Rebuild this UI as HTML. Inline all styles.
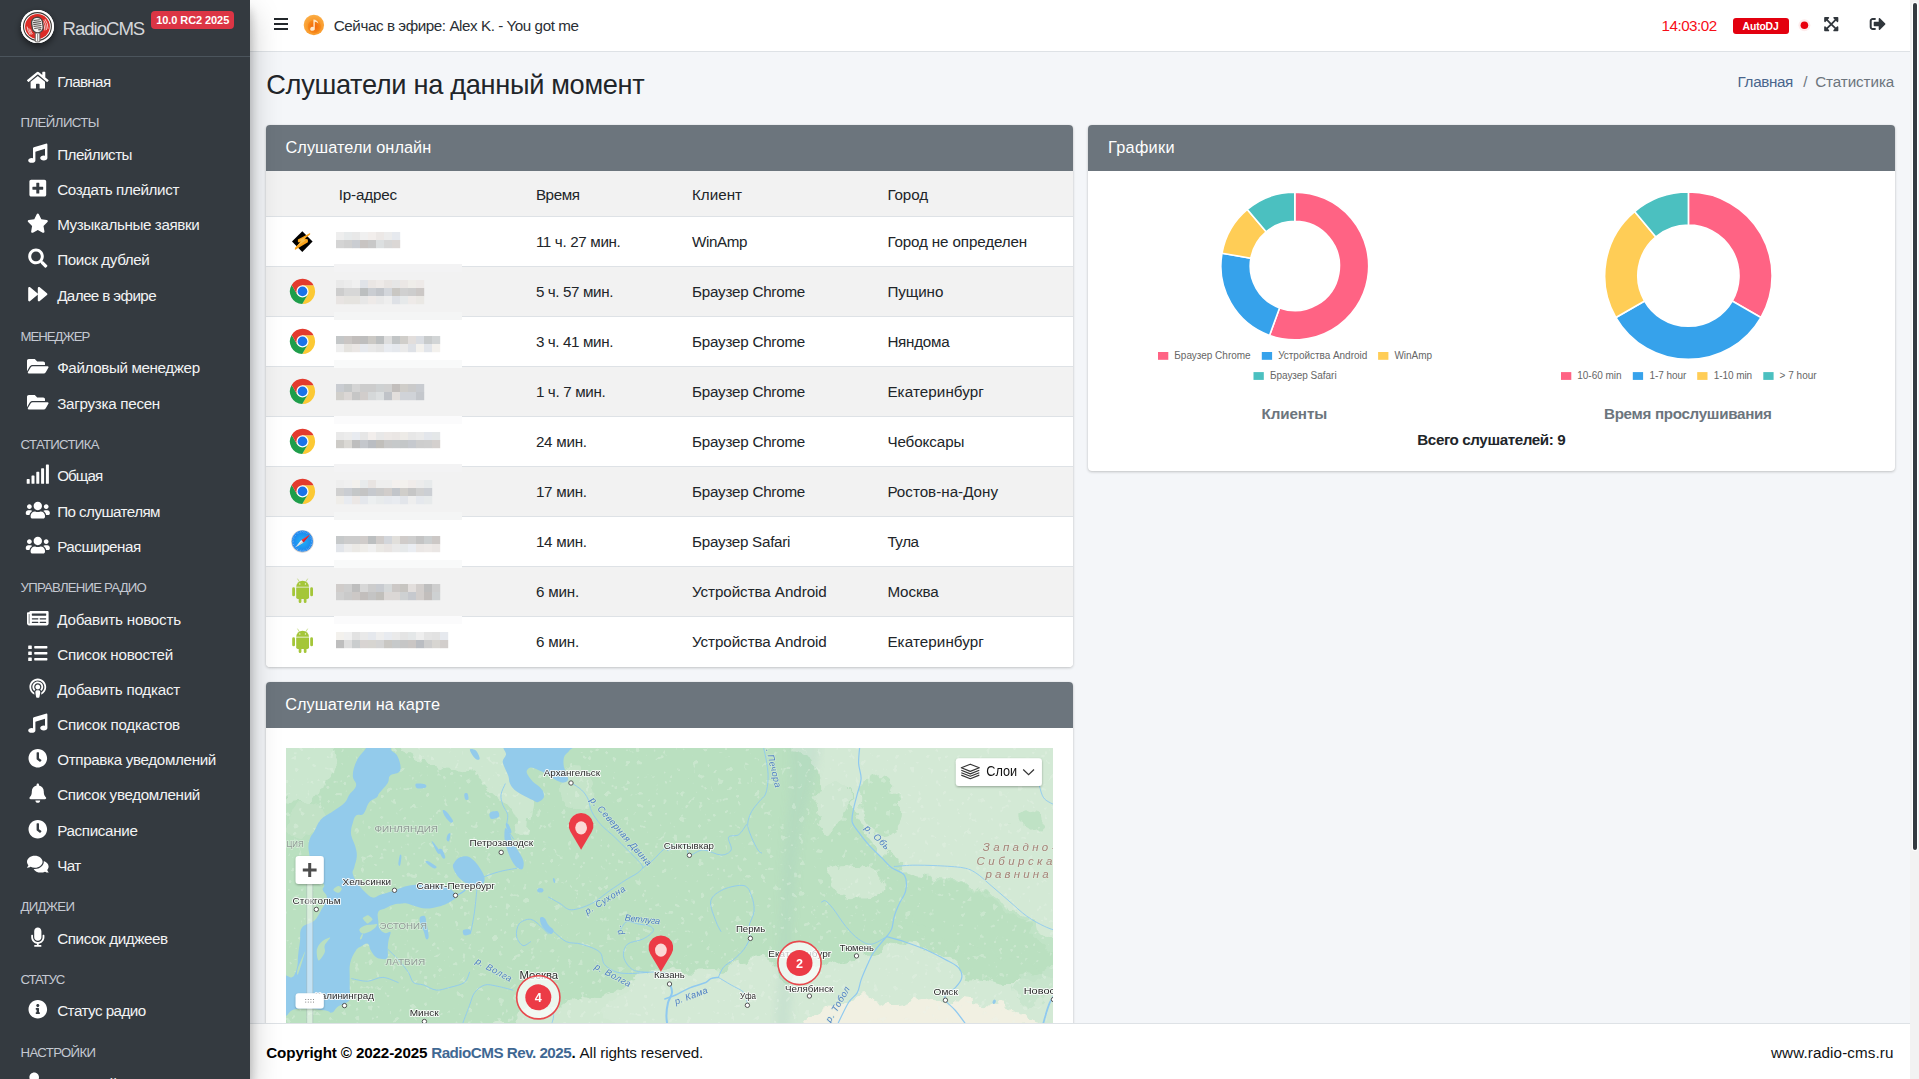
<!DOCTYPE html>
<html lang="ru"><head><meta charset="utf-8"><title>RadioCMS</title>
<style>
*{box-sizing:border-box}
html,body{margin:0;padding:0}
body{width:1919px;height:1079px;overflow:hidden;position:relative;background:#f4f6f9;font-family:'Liberation Sans',sans-serif;color:#212529}
.t{position:absolute;white-space:pre;display:block}
.i{position:absolute;display:block}
.abs{position:absolute}
#side{left:0;top:0;width:250px;height:1079px;background:#343a40;z-index:30;overflow:hidden}
#sideshadow{left:0;top:0;width:250px;height:1079px;z-index:29;box-shadow:0 14px 28px rgba(0,0,0,.25),0 10px 10px rgba(0,0,0,.22)}
#nav{left:250px;top:0;width:1660px;height:52px;background:#fff;border-bottom:1px solid #dee2e6;z-index:20}
#foot{left:250px;top:1023px;width:1660px;height:56px;background:#fff;border-top:1px solid #dee2e6;z-index:20}
.card{background:#fff;border-radius:4px;box-shadow:0 0 1px rgba(0,0,0,.125),0 1px 3px rgba(0,0,0,.2)}
.ch{background:#6c757d;border-radius:4px 4px 0 0;height:46px;left:0;top:0;width:100%}
.ml{font-family:'Liberation Sans',sans-serif;fill:#2b2b2b;stroke:#fff;stroke-width:2px;stroke-opacity:.85;paint-order:stroke;stroke-linejoin:round}
.mc{font-family:'Liberation Sans',sans-serif;fill:#8f9a95;stroke:#e6f2e6;stroke-width:1.5px;stroke-opacity:.6;paint-order:stroke}
.mr{font-family:'Liberation Sans',sans-serif;font-style:italic;fill:#4f7fc4;stroke:#d8ecdc;stroke-width:1.5px;stroke-opacity:.6;paint-order:stroke}
.mp{font-family:'Liberation Sans',sans-serif;font-style:italic;fill:#a58478;stroke:#e4f0e4;stroke-width:1.5px;stroke-opacity:.5;paint-order:stroke}
</style></head><body>
<span class="t" style="left:266.30px;top:68.30px;font-size:27.2px;line-height:33px;color:#212529;letter-spacing:-0.322px;">Слушатели на данный момент</span>
<span class="t" style="left:1737.60px;top:72.30px;font-size:15.2px;line-height:19px;color:#49658c;letter-spacing:-0.345px;">Главная</span>
<span class="t" style="left:1803.20px;top:72.30px;font-size:15.2px;line-height:19px;color:#6c757d;">/</span>
<span class="t" style="left:1815.20px;top:72.30px;font-size:15.2px;line-height:19px;color:#6c757d;letter-spacing:-0.077px;">Статистика</span>
<div class="abs card" style="left:265.5px;top:125px;width:807.5px;height:541.5px"><div class="abs ch"></div>
<div class="abs" style="left:0;top:46px;width:100%;height:46px;background:#f2f2f2;border-bottom:1px solid #dee2e6"></div>
<div class="abs" style="left:0;top:92px;width:100%;height:50px;background:#fff;border-bottom:1px solid #dee2e6;"></div>
<div class="abs" style="left:0;top:142px;width:100%;height:50px;background:#f2f2f2;border-bottom:1px solid #dee2e6;"></div>
<div class="abs" style="left:0;top:192px;width:100%;height:50px;background:#fff;border-bottom:1px solid #dee2e6;"></div>
<div class="abs" style="left:0;top:242px;width:100%;height:50px;background:#f2f2f2;border-bottom:1px solid #dee2e6;"></div>
<div class="abs" style="left:0;top:292px;width:100%;height:50px;background:#fff;border-bottom:1px solid #dee2e6;"></div>
<div class="abs" style="left:0;top:342px;width:100%;height:50px;background:#f2f2f2;border-bottom:1px solid #dee2e6;"></div>
<div class="abs" style="left:0;top:392px;width:100%;height:50px;background:#fff;border-bottom:1px solid #dee2e6;"></div>
<div class="abs" style="left:0;top:442px;width:100%;height:50px;background:#f2f2f2;border-bottom:1px solid #dee2e6;"></div>
<div class="abs" style="left:0;top:492px;width:100%;height:49.5px;background:#fff;border-radius:0 0 4px 4px;"></div>
</div>
<svg class="i" style="left:266px;top:171px" width="807" height="496" viewBox="266 171 807 496"><rect x="336" y="232" width="8.2" height="8.2" fill="rgb(238, 238, 238)"/><rect x="344" y="232" width="8.2" height="8.2" fill="rgb(231, 234, 235)"/><rect x="352" y="232" width="8.2" height="8.2" fill="rgb(232, 232, 232)"/><rect x="360" y="232" width="8.2" height="8.2" fill="rgb(240, 240, 240)"/><rect x="368" y="232" width="8.2" height="8.2" fill="rgb(242, 238, 236)"/><rect x="376" y="232" width="8.2" height="8.2" fill="rgb(236, 232, 230)"/><rect x="384" y="232" width="8.2" height="8.2" fill="rgb(236, 236, 236)"/><rect x="392" y="232" width="8.2" height="8.2" fill="rgb(230, 233, 238)"/><rect x="336" y="240" width="8.2" height="8.2" fill="rgb(212, 212, 212)"/><rect x="344" y="240" width="8.2" height="8.2" fill="rgb(208, 208, 208)"/><rect x="352" y="240" width="8.2" height="8.2" fill="rgb(202, 205, 210)"/><rect x="360" y="240" width="8.2" height="8.2" fill="rgb(200, 196, 194)"/><rect x="368" y="240" width="8.2" height="8.2" fill="rgb(200, 200, 200)"/><rect x="376" y="240" width="8.2" height="8.2" fill="rgb(220, 223, 224)"/><rect x="384" y="240" width="8.2" height="8.2" fill="rgb(215, 215, 215)"/><rect x="392" y="240" width="8.2" height="8.2" fill="rgb(219, 215, 213)"/><rect x="334" y="264" width="128" height="8" fill="rgb(243, 243, 244)"/><rect x="336" y="280" width="8.2" height="8.2" fill="rgb(233, 233, 233)"/><rect x="344" y="280" width="8.2" height="8.2" fill="rgb(236, 236, 236)"/><rect x="352" y="280" width="8.2" height="8.2" fill="rgb(240, 240, 240)"/><rect x="360" y="280" width="8.2" height="8.2" fill="rgb(224, 227, 232)"/><rect x="368" y="280" width="8.2" height="8.2" fill="rgb(234, 230, 228)"/><rect x="376" y="280" width="8.2" height="8.2" fill="rgb(238, 234, 232)"/><rect x="384" y="280" width="8.2" height="8.2" fill="rgb(232, 228, 226)"/><rect x="392" y="280" width="8.2" height="8.2" fill="rgb(230, 230, 230)"/><rect x="400" y="280" width="8.2" height="8.2" fill="rgb(235, 231, 229)"/><rect x="408" y="280" width="8.2" height="8.2" fill="rgb(239, 237, 233)"/><rect x="416" y="280" width="8.2" height="8.2" fill="rgb(238, 234, 232)"/><rect x="336" y="288" width="8.2" height="8.2" fill="rgb(205, 205, 205)"/><rect x="344" y="288" width="8.2" height="8.2" fill="rgb(215, 215, 215)"/><rect x="352" y="288" width="8.2" height="8.2" fill="rgb(215, 215, 215)"/><rect x="360" y="288" width="8.2" height="8.2" fill="rgb(188, 191, 192)"/><rect x="368" y="288" width="8.2" height="8.2" fill="rgb(202, 205, 210)"/><rect x="376" y="288" width="8.2" height="8.2" fill="rgb(194, 197, 202)"/><rect x="384" y="288" width="8.2" height="8.2" fill="rgb(211, 214, 219)"/><rect x="392" y="288" width="8.2" height="8.2" fill="rgb(201, 199, 195)"/><rect x="400" y="288" width="8.2" height="8.2" fill="rgb(208, 208, 208)"/><rect x="408" y="288" width="8.2" height="8.2" fill="rgb(205, 205, 205)"/><rect x="416" y="288" width="8.2" height="8.2" fill="rgb(204, 200, 198)"/><rect x="336" y="296" width="8.2" height="8.2" fill="rgb(232, 228, 226)"/><rect x="344" y="296" width="8.2" height="8.2" fill="rgb(229, 227, 223)"/><rect x="352" y="296" width="8.2" height="8.2" fill="rgb(229, 227, 223)"/><rect x="360" y="296" width="8.2" height="8.2" fill="rgb(231, 231, 231)"/><rect x="368" y="296" width="8.2" height="8.2" fill="rgb(238, 234, 232)"/><rect x="376" y="296" width="8.2" height="8.2" fill="rgb(233, 233, 233)"/><rect x="384" y="296" width="8.2" height="8.2" fill="rgb(238, 238, 238)"/><rect x="392" y="296" width="8.2" height="8.2" fill="rgb(222, 225, 230)"/><rect x="400" y="296" width="8.2" height="8.2" fill="rgb(230, 233, 234)"/><rect x="408" y="296" width="8.2" height="8.2" fill="rgb(238, 234, 232)"/><rect x="416" y="296" width="8.2" height="8.2" fill="rgb(234, 232, 228)"/><rect x="334" y="312" width="128" height="8" fill="rgb(244, 245, 245)"/><rect x="336" y="336" width="8.2" height="8.2" fill="rgb(196, 199, 200)"/><rect x="344" y="336" width="8.2" height="8.2" fill="rgb(202, 198, 196)"/><rect x="352" y="336" width="8.2" height="8.2" fill="rgb(194, 190, 188)"/><rect x="360" y="336" width="8.2" height="8.2" fill="rgb(190, 190, 190)"/><rect x="368" y="336" width="8.2" height="8.2" fill="rgb(203, 201, 197)"/><rect x="376" y="336" width="8.2" height="8.2" fill="rgb(188, 191, 192)"/><rect x="384" y="336" width="8.2" height="8.2" fill="rgb(222, 222, 222)"/><rect x="392" y="336" width="8.2" height="8.2" fill="rgb(194, 197, 198)"/><rect x="400" y="336" width="8.2" height="8.2" fill="rgb(208, 206, 202)"/><rect x="408" y="336" width="8.2" height="8.2" fill="rgb(226, 222, 220)"/><rect x="416" y="336" width="8.2" height="8.2" fill="rgb(218, 221, 226)"/><rect x="424" y="336" width="8.2" height="8.2" fill="rgb(200, 203, 204)"/><rect x="432" y="336" width="8.2" height="8.2" fill="rgb(210, 213, 214)"/><rect x="336" y="344" width="8.2" height="8.2" fill="rgb(238, 238, 238)"/><rect x="344" y="344" width="8.2" height="8.2" fill="rgb(229, 227, 223)"/><rect x="352" y="344" width="8.2" height="8.2" fill="rgb(234, 230, 228)"/><rect x="360" y="344" width="8.2" height="8.2" fill="rgb(230, 233, 238)"/><rect x="368" y="344" width="8.2" height="8.2" fill="rgb(232, 232, 232)"/><rect x="376" y="344" width="8.2" height="8.2" fill="rgb(228, 228, 228)"/><rect x="384" y="344" width="8.2" height="8.2" fill="rgb(232, 235, 240)"/><rect x="392" y="344" width="8.2" height="8.2" fill="rgb(229, 232, 237)"/><rect x="400" y="344" width="8.2" height="8.2" fill="rgb(234, 234, 234)"/><rect x="408" y="344" width="8.2" height="8.2" fill="rgb(222, 225, 230)"/><rect x="416" y="344" width="8.2" height="8.2" fill="rgb(243, 241, 237)"/><rect x="424" y="344" width="8.2" height="8.2" fill="rgb(226, 229, 234)"/><rect x="432" y="344" width="8.2" height="8.2" fill="rgb(243, 241, 237)"/><rect x="334" y="360" width="128" height="8" fill="rgb(249, 250, 250)"/><rect x="336" y="384" width="8.2" height="8.2" fill="rgb(201, 204, 209)"/><rect x="344" y="384" width="8.2" height="8.2" fill="rgb(196, 199, 200)"/><rect x="352" y="384" width="8.2" height="8.2" fill="rgb(212, 212, 212)"/><rect x="360" y="384" width="8.2" height="8.2" fill="rgb(204, 204, 204)"/><rect x="368" y="384" width="8.2" height="8.2" fill="rgb(204, 204, 204)"/><rect x="376" y="384" width="8.2" height="8.2" fill="rgb(206, 209, 210)"/><rect x="384" y="384" width="8.2" height="8.2" fill="rgb(208, 208, 208)"/><rect x="392" y="384" width="8.2" height="8.2" fill="rgb(194, 190, 188)"/><rect x="400" y="384" width="8.2" height="8.2" fill="rgb(207, 205, 201)"/><rect x="408" y="384" width="8.2" height="8.2" fill="rgb(202, 202, 202)"/><rect x="416" y="384" width="8.2" height="8.2" fill="rgb(200, 203, 208)"/><rect x="336" y="392" width="8.2" height="8.2" fill="rgb(209, 207, 203)"/><rect x="344" y="392" width="8.2" height="8.2" fill="rgb(219, 215, 213)"/><rect x="352" y="392" width="8.2" height="8.2" fill="rgb(198, 198, 198)"/><rect x="360" y="392" width="8.2" height="8.2" fill="rgb(209, 205, 203)"/><rect x="368" y="392" width="8.2" height="8.2" fill="rgb(213, 216, 217)"/><rect x="376" y="392" width="8.2" height="8.2" fill="rgb(220, 223, 224)"/><rect x="384" y="392" width="8.2" height="8.2" fill="rgb(192, 195, 200)"/><rect x="392" y="392" width="8.2" height="8.2" fill="rgb(226, 222, 220)"/><rect x="400" y="392" width="8.2" height="8.2" fill="rgb(208, 211, 216)"/><rect x="408" y="392" width="8.2" height="8.2" fill="rgb(208, 211, 216)"/><rect x="416" y="392" width="8.2" height="8.2" fill="rgb(196, 199, 204)"/><rect x="334" y="416" width="128" height="8" fill="rgb(251, 251, 252)"/><rect x="336" y="432" width="8.2" height="8.2" fill="rgb(233, 233, 233)"/><rect x="344" y="432" width="8.2" height="8.2" fill="rgb(236, 236, 236)"/><rect x="352" y="432" width="8.2" height="8.2" fill="rgb(232, 235, 240)"/><rect x="360" y="432" width="8.2" height="8.2" fill="rgb(230, 230, 230)"/><rect x="368" y="432" width="8.2" height="8.2" fill="rgb(242, 238, 236)"/><rect x="376" y="432" width="8.2" height="8.2" fill="rgb(232, 232, 232)"/><rect x="384" y="432" width="8.2" height="8.2" fill="rgb(236, 232, 230)"/><rect x="392" y="432" width="8.2" height="8.2" fill="rgb(234, 230, 228)"/><rect x="400" y="432" width="8.2" height="8.2" fill="rgb(237, 235, 231)"/><rect x="408" y="432" width="8.2" height="8.2" fill="rgb(231, 231, 231)"/><rect x="416" y="432" width="8.2" height="8.2" fill="rgb(234, 234, 234)"/><rect x="424" y="432" width="8.2" height="8.2" fill="rgb(227, 230, 235)"/><rect x="432" y="432" width="8.2" height="8.2" fill="rgb(228, 231, 232)"/><rect x="336" y="440" width="8.2" height="8.2" fill="rgb(205, 203, 199)"/><rect x="344" y="440" width="8.2" height="8.2" fill="rgb(218, 216, 212)"/><rect x="352" y="440" width="8.2" height="8.2" fill="rgb(190, 190, 190)"/><rect x="360" y="440" width="8.2" height="8.2" fill="rgb(196, 199, 204)"/><rect x="368" y="440" width="8.2" height="8.2" fill="rgb(186, 189, 194)"/><rect x="376" y="440" width="8.2" height="8.2" fill="rgb(193, 191, 187)"/><rect x="384" y="440" width="8.2" height="8.2" fill="rgb(200, 200, 200)"/><rect x="392" y="440" width="8.2" height="8.2" fill="rgb(198, 201, 202)"/><rect x="400" y="440" width="8.2" height="8.2" fill="rgb(196, 199, 200)"/><rect x="408" y="440" width="8.2" height="8.2" fill="rgb(198, 201, 206)"/><rect x="416" y="440" width="8.2" height="8.2" fill="rgb(205, 205, 205)"/><rect x="424" y="440" width="8.2" height="8.2" fill="rgb(206, 206, 206)"/><rect x="432" y="440" width="8.2" height="8.2" fill="rgb(212, 208, 206)"/><rect x="334" y="464" width="128" height="8" fill="rgb(243, 243, 244)"/><rect x="336" y="480" width="8.2" height="8.2" fill="rgb(238, 238, 238)"/><rect x="344" y="480" width="8.2" height="8.2" fill="rgb(240, 240, 240)"/><rect x="352" y="480" width="8.2" height="8.2" fill="rgb(243, 241, 237)"/><rect x="360" y="480" width="8.2" height="8.2" fill="rgb(232, 235, 236)"/><rect x="368" y="480" width="8.2" height="8.2" fill="rgb(232, 228, 226)"/><rect x="376" y="480" width="8.2" height="8.2" fill="rgb(238, 238, 238)"/><rect x="384" y="480" width="8.2" height="8.2" fill="rgb(238, 238, 238)"/><rect x="392" y="480" width="8.2" height="8.2" fill="rgb(244, 240, 238)"/><rect x="400" y="480" width="8.2" height="8.2" fill="rgb(243, 241, 237)"/><rect x="408" y="480" width="8.2" height="8.2" fill="rgb(240, 236, 234)"/><rect x="416" y="480" width="8.2" height="8.2" fill="rgb(236, 236, 236)"/><rect x="424" y="480" width="8.2" height="8.2" fill="rgb(231, 234, 235)"/><rect x="336" y="488" width="8.2" height="8.2" fill="rgb(208, 208, 208)"/><rect x="344" y="488" width="8.2" height="8.2" fill="rgb(202, 205, 210)"/><rect x="352" y="488" width="8.2" height="8.2" fill="rgb(196, 199, 200)"/><rect x="360" y="488" width="8.2" height="8.2" fill="rgb(196, 196, 196)"/><rect x="368" y="488" width="8.2" height="8.2" fill="rgb(198, 201, 206)"/><rect x="376" y="488" width="8.2" height="8.2" fill="rgb(202, 202, 202)"/><rect x="384" y="488" width="8.2" height="8.2" fill="rgb(209, 205, 203)"/><rect x="392" y="488" width="8.2" height="8.2" fill="rgb(194, 197, 202)"/><rect x="400" y="488" width="8.2" height="8.2" fill="rgb(208, 206, 202)"/><rect x="408" y="488" width="8.2" height="8.2" fill="rgb(198, 198, 198)"/><rect x="416" y="488" width="8.2" height="8.2" fill="rgb(208, 208, 208)"/><rect x="424" y="488" width="8.2" height="8.2" fill="rgb(204, 207, 212)"/><rect x="336" y="496" width="8.2" height="8.2" fill="rgb(239, 237, 233)"/><rect x="344" y="496" width="8.2" height="8.2" fill="rgb(232, 235, 240)"/><rect x="352" y="496" width="8.2" height="8.2" fill="rgb(235, 231, 229)"/><rect x="360" y="496" width="8.2" height="8.2" fill="rgb(228, 231, 236)"/><rect x="368" y="496" width="8.2" height="8.2" fill="rgb(236, 239, 240)"/><rect x="376" y="496" width="8.2" height="8.2" fill="rgb(232, 235, 236)"/><rect x="384" y="496" width="8.2" height="8.2" fill="rgb(230, 233, 238)"/><rect x="392" y="496" width="8.2" height="8.2" fill="rgb(232, 235, 240)"/><rect x="400" y="496" width="8.2" height="8.2" fill="rgb(226, 229, 234)"/><rect x="408" y="496" width="8.2" height="8.2" fill="rgb(238, 238, 238)"/><rect x="416" y="496" width="8.2" height="8.2" fill="rgb(229, 232, 237)"/><rect x="424" y="496" width="8.2" height="8.2" fill="rgb(231, 234, 235)"/><rect x="334" y="512" width="128" height="8" fill="rgb(244, 245, 245)"/><rect x="336" y="536" width="8.2" height="8.2" fill="rgb(198, 201, 202)"/><rect x="344" y="536" width="8.2" height="8.2" fill="rgb(204, 204, 204)"/><rect x="352" y="536" width="8.2" height="8.2" fill="rgb(204, 204, 204)"/><rect x="360" y="536" width="8.2" height="8.2" fill="rgb(208, 204, 202)"/><rect x="368" y="536" width="8.2" height="8.2" fill="rgb(188, 191, 192)"/><rect x="376" y="536" width="8.2" height="8.2" fill="rgb(208, 204, 202)"/><rect x="384" y="536" width="8.2" height="8.2" fill="rgb(211, 214, 219)"/><rect x="392" y="536" width="8.2" height="8.2" fill="rgb(225, 223, 219)"/><rect x="400" y="536" width="8.2" height="8.2" fill="rgb(208, 204, 202)"/><rect x="408" y="536" width="8.2" height="8.2" fill="rgb(206, 206, 206)"/><rect x="416" y="536" width="8.2" height="8.2" fill="rgb(196, 196, 196)"/><rect x="424" y="536" width="8.2" height="8.2" fill="rgb(203, 206, 207)"/><rect x="432" y="536" width="8.2" height="8.2" fill="rgb(204, 200, 198)"/><rect x="336" y="544" width="8.2" height="8.2" fill="rgb(226, 229, 234)"/><rect x="344" y="544" width="8.2" height="8.2" fill="rgb(236, 236, 236)"/><rect x="352" y="544" width="8.2" height="8.2" fill="rgb(235, 233, 229)"/><rect x="360" y="544" width="8.2" height="8.2" fill="rgb(239, 237, 233)"/><rect x="368" y="544" width="8.2" height="8.2" fill="rgb(240, 240, 240)"/><rect x="376" y="544" width="8.2" height="8.2" fill="rgb(234, 232, 228)"/><rect x="384" y="544" width="8.2" height="8.2" fill="rgb(232, 228, 226)"/><rect x="392" y="544" width="8.2" height="8.2" fill="rgb(233, 233, 233)"/><rect x="400" y="544" width="8.2" height="8.2" fill="rgb(230, 233, 234)"/><rect x="408" y="544" width="8.2" height="8.2" fill="rgb(234, 237, 242)"/><rect x="416" y="544" width="8.2" height="8.2" fill="rgb(235, 231, 229)"/><rect x="424" y="544" width="8.2" height="8.2" fill="rgb(237, 233, 231)"/><rect x="432" y="544" width="8.2" height="8.2" fill="rgb(234, 230, 228)"/><rect x="334" y="560" width="128" height="8" fill="rgb(249, 250, 250)"/><rect x="336" y="584" width="8.2" height="8.2" fill="rgb(208, 204, 202)"/><rect x="344" y="584" width="8.2" height="8.2" fill="rgb(206, 206, 206)"/><rect x="352" y="584" width="8.2" height="8.2" fill="rgb(190, 190, 190)"/><rect x="360" y="584" width="8.2" height="8.2" fill="rgb(215, 215, 215)"/><rect x="368" y="584" width="8.2" height="8.2" fill="rgb(204, 204, 204)"/><rect x="376" y="584" width="8.2" height="8.2" fill="rgb(200, 203, 208)"/><rect x="384" y="584" width="8.2" height="8.2" fill="rgb(213, 216, 217)"/><rect x="392" y="584" width="8.2" height="8.2" fill="rgb(204, 200, 198)"/><rect x="400" y="584" width="8.2" height="8.2" fill="rgb(199, 197, 193)"/><rect x="408" y="584" width="8.2" height="8.2" fill="rgb(226, 222, 220)"/><rect x="416" y="584" width="8.2" height="8.2" fill="rgb(210, 206, 204)"/><rect x="424" y="584" width="8.2" height="8.2" fill="rgb(190, 190, 190)"/><rect x="432" y="584" width="8.2" height="8.2" fill="rgb(206, 206, 206)"/><rect x="336" y="592" width="8.2" height="8.2" fill="rgb(208, 208, 208)"/><rect x="344" y="592" width="8.2" height="8.2" fill="rgb(202, 202, 202)"/><rect x="352" y="592" width="8.2" height="8.2" fill="rgb(204, 200, 198)"/><rect x="360" y="592" width="8.2" height="8.2" fill="rgb(194, 190, 188)"/><rect x="368" y="592" width="8.2" height="8.2" fill="rgb(196, 196, 196)"/><rect x="376" y="592" width="8.2" height="8.2" fill="rgb(193, 191, 187)"/><rect x="384" y="592" width="8.2" height="8.2" fill="rgb(219, 215, 213)"/><rect x="392" y="592" width="8.2" height="8.2" fill="rgb(219, 215, 213)"/><rect x="400" y="592" width="8.2" height="8.2" fill="rgb(206, 209, 210)"/><rect x="408" y="592" width="8.2" height="8.2" fill="rgb(198, 201, 206)"/><rect x="416" y="592" width="8.2" height="8.2" fill="rgb(210, 206, 204)"/><rect x="424" y="592" width="8.2" height="8.2" fill="rgb(194, 190, 188)"/><rect x="432" y="592" width="8.2" height="8.2" fill="rgb(206, 209, 210)"/><rect x="334" y="616" width="128" height="8" fill="rgb(251, 251, 252)"/><rect x="336" y="632" width="8.2" height="8.2" fill="rgb(243, 241, 237)"/><rect x="344" y="632" width="8.2" height="8.2" fill="rgb(240, 240, 240)"/><rect x="352" y="632" width="8.2" height="8.2" fill="rgb(226, 226, 226)"/><rect x="360" y="632" width="8.2" height="8.2" fill="rgb(233, 233, 233)"/><rect x="368" y="632" width="8.2" height="8.2" fill="rgb(229, 232, 237)"/><rect x="376" y="632" width="8.2" height="8.2" fill="rgb(238, 238, 238)"/><rect x="384" y="632" width="8.2" height="8.2" fill="rgb(232, 235, 240)"/><rect x="392" y="632" width="8.2" height="8.2" fill="rgb(234, 234, 234)"/><rect x="400" y="632" width="8.2" height="8.2" fill="rgb(228, 228, 228)"/><rect x="408" y="632" width="8.2" height="8.2" fill="rgb(228, 231, 232)"/><rect x="416" y="632" width="8.2" height="8.2" fill="rgb(238, 238, 238)"/><rect x="424" y="632" width="8.2" height="8.2" fill="rgb(228, 228, 228)"/><rect x="432" y="632" width="8.2" height="8.2" fill="rgb(226, 226, 226)"/><rect x="440" y="632" width="8.2" height="8.2" fill="rgb(230, 233, 238)"/><rect x="336" y="640" width="8.2" height="8.2" fill="rgb(190, 190, 190)"/><rect x="344" y="640" width="8.2" height="8.2" fill="rgb(222, 222, 222)"/><rect x="352" y="640" width="8.2" height="8.2" fill="rgb(202, 205, 206)"/><rect x="360" y="640" width="8.2" height="8.2" fill="rgb(216, 212, 210)"/><rect x="368" y="640" width="8.2" height="8.2" fill="rgb(215, 213, 209)"/><rect x="376" y="640" width="8.2" height="8.2" fill="rgb(212, 212, 212)"/><rect x="384" y="640" width="8.2" height="8.2" fill="rgb(201, 199, 195)"/><rect x="392" y="640" width="8.2" height="8.2" fill="rgb(198, 201, 202)"/><rect x="400" y="640" width="8.2" height="8.2" fill="rgb(198, 198, 198)"/><rect x="408" y="640" width="8.2" height="8.2" fill="rgb(202, 198, 196)"/><rect x="416" y="640" width="8.2" height="8.2" fill="rgb(186, 189, 194)"/><rect x="424" y="640" width="8.2" height="8.2" fill="rgb(205, 205, 205)"/><rect x="432" y="640" width="8.2" height="8.2" fill="rgb(215, 213, 209)"/><rect x="440" y="640" width="8.2" height="8.2" fill="rgb(210, 206, 204)"/></svg><svg class="i" style="left:290px;top:229px;" width="26" height="26" viewBox="-12.30 -12.60 26 26"><path d="M0 -10.3L10.3 0L0 10.3L-10.3 0Z" fill="#000"/>
<path d="M7.8 -8.7L-4.4 -2L-4.4 0.7L-2.2 0.7L-7.4 6.3L-7.4 8.5L5.6 0.7L5.6 -2.2L2.6 -3.1L7.8 -7.2Z" fill="#faa41c"/>
<path d="M3.6 -4.6L-3.6 -1.4L-1 -0.4L-5.6 4.6L3.4 -1.2L1.2 -2Z" fill="#f6c356" opacity=".85"/></svg><svg class="i" style="left:288px;top:277px;" width="30" height="29" viewBox="-14.50 -14.40 30 29"><path fill="#fcc934" d="M0.00 -6.10L11.02 -6.10A12.6 12.6 0 0 1 -0.23 12.60L5.28 3.05L0 0Z"/><path fill="#1e9e4a" d="M5.28 3.05L-0.23 12.60A12.6 12.6 0 0 1 -10.80 -6.50L-5.28 3.05L0 0Z"/><path fill="#e33b2e" d="M-5.28 3.05L-10.80 -6.50A12.6 12.6 0 0 1 11.02 -6.10L0.00 -6.10L0 0Z"/><circle r="6.1" fill="#fff"/><circle r="4.85" fill="#1a73e8"/></svg><svg class="i" style="left:288px;top:327px;" width="30" height="29" viewBox="-14.50 -14.40 30 29"><path fill="#fcc934" d="M0.00 -6.10L11.02 -6.10A12.6 12.6 0 0 1 -0.23 12.60L5.28 3.05L0 0Z"/><path fill="#1e9e4a" d="M5.28 3.05L-0.23 12.60A12.6 12.6 0 0 1 -10.80 -6.50L-5.28 3.05L0 0Z"/><path fill="#e33b2e" d="M-5.28 3.05L-10.80 -6.50A12.6 12.6 0 0 1 11.02 -6.10L0.00 -6.10L0 0Z"/><circle r="6.1" fill="#fff"/><circle r="4.85" fill="#1a73e8"/></svg><svg class="i" style="left:288px;top:377px;" width="30" height="29" viewBox="-14.50 -14.40 30 29"><path fill="#fcc934" d="M0.00 -6.10L11.02 -6.10A12.6 12.6 0 0 1 -0.23 12.60L5.28 3.05L0 0Z"/><path fill="#1e9e4a" d="M5.28 3.05L-0.23 12.60A12.6 12.6 0 0 1 -10.80 -6.50L-5.28 3.05L0 0Z"/><path fill="#e33b2e" d="M-5.28 3.05L-10.80 -6.50A12.6 12.6 0 0 1 11.02 -6.10L0.00 -6.10L0 0Z"/><circle r="6.1" fill="#fff"/><circle r="4.85" fill="#1a73e8"/></svg><svg class="i" style="left:288px;top:427px;" width="30" height="29" viewBox="-14.50 -14.40 30 29"><path fill="#fcc934" d="M0.00 -6.10L11.02 -6.10A12.6 12.6 0 0 1 -0.23 12.60L5.28 3.05L0 0Z"/><path fill="#1e9e4a" d="M5.28 3.05L-0.23 12.60A12.6 12.6 0 0 1 -10.80 -6.50L-5.28 3.05L0 0Z"/><path fill="#e33b2e" d="M-5.28 3.05L-10.80 -6.50A12.6 12.6 0 0 1 11.02 -6.10L0.00 -6.10L0 0Z"/><circle r="6.1" fill="#fff"/><circle r="4.85" fill="#1a73e8"/></svg><svg class="i" style="left:288px;top:477px;" width="30" height="29" viewBox="-14.50 -14.40 30 29"><path fill="#fcc934" d="M0.00 -6.10L11.02 -6.10A12.6 12.6 0 0 1 -0.23 12.60L5.28 3.05L0 0Z"/><path fill="#1e9e4a" d="M5.28 3.05L-0.23 12.60A12.6 12.6 0 0 1 -10.80 -6.50L-5.28 3.05L0 0Z"/><path fill="#e33b2e" d="M-5.28 3.05L-10.80 -6.50A12.6 12.6 0 0 1 11.02 -6.10L0.00 -6.10L0 0Z"/><circle r="6.1" fill="#fff"/><circle r="4.85" fill="#1a73e8"/></svg><svg class="i" style="left:289px;top:528px;" width="28" height="28" viewBox="-13.40 -13.20 28 28"><defs><radialGradient id="sfg" cx="50%" cy="50%" r="50%"><stop offset="0" stop-color="#22b4f6"/><stop offset="1" stop-color="#1b82ee"/></radialGradient></defs>
<circle r="11.2" fill="#d9dadd"/><circle cy="0.4" r="11.2" fill="#c9c5c0" opacity=".6"/><circle r="10.6" fill="url(#sfg)"/>
<path d="M8.60 0.00L10.20 0.00M9.16 1.61L10.05 1.77M8.08 2.94L9.58 3.49M8.05 4.65L8.83 5.10M6.59 5.53L7.81 6.56M5.98 7.12L6.56 7.81M4.30 7.45L5.10 8.83M3.18 8.74L3.49 9.58M1.49 8.47L1.77 10.05M0.00 9.30L0.00 10.20M-1.49 8.47L-1.77 10.05M-3.18 8.74L-3.49 9.58M-4.30 7.45L-5.10 8.83M-5.98 7.12L-6.56 7.81M-6.59 5.53L-7.81 6.56M-8.05 4.65L-8.83 5.10M-8.08 2.94L-9.58 3.49M-9.16 1.61L-10.05 1.77M-8.60 0.00L-10.20 0.00M-9.16 -1.61L-10.05 -1.77M-8.08 -2.94L-9.58 -3.49M-8.05 -4.65L-8.83 -5.10M-6.59 -5.53L-7.81 -6.56M-5.98 -7.12L-6.56 -7.81M-4.30 -7.45L-5.10 -8.83M-3.18 -8.74L-3.49 -9.58M-1.49 -8.47L-1.77 -10.05M-0.00 -9.30L-0.00 -10.20M1.49 -8.47L1.77 -10.05M3.18 -8.74L3.49 -9.58M4.30 -7.45L5.10 -8.83M5.98 -7.12L6.56 -7.81M6.59 -5.53L7.81 -6.56M8.05 -4.65L8.83 -5.10M8.08 -2.94L9.58 -3.49M9.16 -1.61L10.05 -1.77" stroke="#fff" stroke-width=".45" opacity=".75"/>
<path d="M7.6 -6.8L1.1 1.2L-1.2 -1.1Z" fill="#f3343a"/><path d="M-6.9 6.1L1.1 1.2L-1.2 -1.1Z" fill="#f4f4f4"/>
<path d="M7.6 -6.8L1.1 1.2L0 0Z" fill="#d4202a"/><path d="M-6.9 6.1L1.1 1.2L0 0Z" fill="#cfcfcf"/></svg><svg class="i" style="left:291px;top:578px;" width="24" height="27" viewBox="-11.60 -0.70 24 27"><g fill="#a4c639"><path d="M-6.4 8.1A6.4 6.1 0 0 1 6.4 8.1Z"/>
<path d="M-6.4 8.75H6.4V18.6Q6.4 20.3 4.7 20.3H-4.7Q-6.4 20.3 -6.4 18.6Z"/>
<rect x="-10.4" y="8.6" width="2.8" height="9" rx="1.4"/><rect x="7.6" y="8.6" width="2.8" height="9" rx="1.4"/>
<rect x="-3.9" y="18" width="2.7" height="6.3" rx="1.35"/><rect x="1.2" y="18" width="2.7" height="6.3" rx="1.35"/></g>
<path d="M-4.9 0.3L-3.2 3.2M4.9 0.3L3.2 3.2" stroke="#a4c639" stroke-width=".55" stroke-linecap="round"/>
<circle cx="-2.8" cy="5.2" r=".6" fill="#fff"/><circle cx="2.8" cy="5.2" r=".6" fill="#fff"/></svg><svg class="i" style="left:291px;top:628px;" width="24" height="27" viewBox="-11.60 -0.70 24 27"><g fill="#a4c639"><path d="M-6.4 8.1A6.4 6.1 0 0 1 6.4 8.1Z"/>
<path d="M-6.4 8.75H6.4V18.6Q6.4 20.3 4.7 20.3H-4.7Q-6.4 20.3 -6.4 18.6Z"/>
<rect x="-10.4" y="8.6" width="2.8" height="9" rx="1.4"/><rect x="7.6" y="8.6" width="2.8" height="9" rx="1.4"/>
<rect x="-3.9" y="18" width="2.7" height="6.3" rx="1.35"/><rect x="1.2" y="18" width="2.7" height="6.3" rx="1.35"/></g>
<path d="M-4.9 0.3L-3.2 3.2M4.9 0.3L3.2 3.2" stroke="#a4c639" stroke-width=".55" stroke-linecap="round"/>
<circle cx="-2.8" cy="5.2" r=".6" fill="#fff"/><circle cx="2.8" cy="5.2" r=".6" fill="#fff"/></svg>
<span class="t" style="left:338.75px;top:185.30px;font-size:15.2px;line-height:19px;color:#212529;letter-spacing:-0.160px;">Ip-адрес</span>
<span class="t" style="left:535.90px;top:185.30px;font-size:15.2px;line-height:19px;color:#212529;letter-spacing:-0.421px;">Время</span>
<span class="t" style="left:692.00px;top:185.30px;font-size:15.2px;line-height:19px;color:#212529;letter-spacing:0.019px;">Клиент</span>
<span class="t" style="left:887.40px;top:185.30px;font-size:15.2px;line-height:19px;color:#212529;letter-spacing:-0.096px;">Город</span>
<span class="t" style="left:535.90px;top:232.30px;font-size:15.2px;line-height:19px;color:#212529;letter-spacing:-0.337px;">11 ч. 27 мин.</span>
<span class="t" style="left:692.00px;top:232.30px;font-size:15.2px;line-height:19px;color:#212529;letter-spacing:-0.365px;">WinAmp</span>
<span class="t" style="left:887.40px;top:232.30px;font-size:15.2px;line-height:19px;color:#212529;letter-spacing:-0.138px;">Город не определен</span>
<span class="t" style="left:535.90px;top:282.30px;font-size:15.2px;line-height:19px;color:#212529;letter-spacing:-0.381px;">5 ч. 57 мин.</span>
<span class="t" style="left:692.00px;top:282.30px;font-size:15.2px;line-height:19px;color:#212529;letter-spacing:-0.223px;">Браузер Chrome</span>
<span class="t" style="left:887.40px;top:282.30px;font-size:15.2px;line-height:19px;color:#212529;letter-spacing:-0.071px;">Пущино</span>
<span class="t" style="left:535.90px;top:332.30px;font-size:15.2px;line-height:19px;color:#212529;letter-spacing:-0.381px;">3 ч. 41 мин.</span>
<span class="t" style="left:692.00px;top:332.30px;font-size:15.2px;line-height:19px;color:#212529;letter-spacing:-0.223px;">Браузер Chrome</span>
<span class="t" style="left:887.40px;top:332.30px;font-size:15.2px;line-height:19px;color:#212529;letter-spacing:-0.240px;">Няндома</span>
<span class="t" style="left:535.90px;top:382.30px;font-size:15.2px;line-height:19px;color:#212529;letter-spacing:-0.347px;">1 ч. 7 мин.</span>
<span class="t" style="left:692.00px;top:382.30px;font-size:15.2px;line-height:19px;color:#212529;letter-spacing:-0.223px;">Браузер Chrome</span>
<span class="t" style="left:887.40px;top:382.30px;font-size:15.2px;line-height:19px;color:#212529;letter-spacing:0.088px;">Екатеринбург</span>
<span class="t" style="left:535.90px;top:432.30px;font-size:15.2px;line-height:19px;color:#212529;letter-spacing:-0.251px;">24 мин.</span>
<span class="t" style="left:692.00px;top:432.30px;font-size:15.2px;line-height:19px;color:#212529;letter-spacing:-0.223px;">Браузер Chrome</span>
<span class="t" style="left:887.40px;top:432.30px;font-size:15.2px;line-height:19px;color:#212529;letter-spacing:-0.085px;">Чебоксары</span>
<span class="t" style="left:535.90px;top:482.30px;font-size:15.2px;line-height:19px;color:#212529;letter-spacing:-0.251px;">17 мин.</span>
<span class="t" style="left:692.00px;top:482.30px;font-size:15.2px;line-height:19px;color:#212529;letter-spacing:-0.223px;">Браузер Chrome</span>
<span class="t" style="left:887.40px;top:482.30px;font-size:15.2px;line-height:19px;color:#212529;">Ростов-на-Дону</span>
<span class="t" style="left:535.90px;top:532.30px;font-size:15.2px;line-height:19px;color:#212529;letter-spacing:-0.251px;">14 мин.</span>
<span class="t" style="left:692.00px;top:532.30px;font-size:15.2px;line-height:19px;color:#212529;letter-spacing:-0.262px;">Браузер Safari</span>
<span class="t" style="left:887.40px;top:532.30px;font-size:15.2px;line-height:19px;color:#212529;letter-spacing:-0.450px;">Тула</span>
<span class="t" style="left:535.90px;top:582.30px;font-size:15.2px;line-height:19px;color:#212529;letter-spacing:-0.184px;">6 мин.</span>
<span class="t" style="left:692.00px;top:582.30px;font-size:15.2px;line-height:19px;color:#212529;letter-spacing:-0.074px;">Устройства Android</span>
<span class="t" style="left:887.40px;top:582.30px;font-size:15.2px;line-height:19px;color:#212529;letter-spacing:-0.093px;">Москва</span>
<span class="t" style="left:535.90px;top:632.30px;font-size:15.2px;line-height:19px;color:#212529;letter-spacing:-0.184px;">6 мин.</span>
<span class="t" style="left:692.00px;top:632.30px;font-size:15.2px;line-height:19px;color:#212529;letter-spacing:-0.074px;">Устройства Android</span>
<span class="t" style="left:887.40px;top:632.30px;font-size:15.2px;line-height:19px;color:#212529;letter-spacing:0.088px;">Екатеринбург</span>
<span class="t" style="left:285.50px;top:137.30px;font-size:16.3px;line-height:20px;color:#fff;letter-spacing:0.066px;">Слушатели онлайн</span>
<div class="abs card" style="left:1087.5px;top:125px;width:807.5px;height:346px"><div class="abs ch"></div></div>
<svg class="i" style="left:1088px;top:171px" width="807" height="300" viewBox="1088 171 807 300"><path d="M1294.80 192.10A73.9 73.9 0 1 1 1269.52 335.44L1279.55 307.91A44.6 44.6 0 1 0 1294.80 221.40Z" fill="#ff6384" stroke="#fff" stroke-width="1.6" stroke-linejoin="round"/><path d="M1269.52 335.44A73.9 73.9 0 0 1 1222.02 253.17L1250.88 258.26A44.6 44.6 0 0 0 1279.55 307.91Z" fill="#36a2eb" stroke="#fff" stroke-width="1.6" stroke-linejoin="round"/><path d="M1222.02 253.17A73.9 73.9 0 0 1 1247.30 209.39L1266.13 231.83A44.6 44.6 0 0 0 1250.88 258.26Z" fill="#ffcd56" stroke="#fff" stroke-width="1.6" stroke-linejoin="round"/><path d="M1247.30 209.39A73.9 73.9 0 0 1 1294.80 192.10L1294.80 221.40A44.6 44.6 0 0 0 1266.13 231.83Z" fill="#4bc0c0" stroke="#fff" stroke-width="1.6" stroke-linejoin="round"/><path d="M1688.40 192.00A83.7 83.7 0 0 1 1760.89 317.55L1732.22 301.00A50.6 50.6 0 0 0 1688.40 225.10Z" fill="#ff6384" stroke="#fff" stroke-width="1.6" stroke-linejoin="round"/><path d="M1760.89 317.55A83.7 83.7 0 0 1 1615.91 317.55L1644.58 301.00A50.6 50.6 0 0 0 1732.22 301.00Z" fill="#36a2eb" stroke="#fff" stroke-width="1.6" stroke-linejoin="round"/><path d="M1615.91 317.55A83.7 83.7 0 0 1 1634.60 211.58L1655.87 236.94A50.6 50.6 0 0 0 1644.58 301.00Z" fill="#ffcd56" stroke="#fff" stroke-width="1.6" stroke-linejoin="round"/><path d="M1634.60 211.58A83.7 83.7 0 0 1 1688.40 192.00L1688.40 225.10A50.6 50.6 0 0 0 1655.87 236.94Z" fill="#4bc0c0" stroke="#fff" stroke-width="1.6" stroke-linejoin="round"/><rect x="1158" y="352" width="10.3" height="7.8" fill="#ff6384"/><rect x="1261.8" y="352" width="10.3" height="7.8" fill="#36a2eb"/><rect x="1378.1" y="352" width="10.3" height="7.8" fill="#ffcd56"/><rect x="1253.5" y="372.1" width="10.3" height="7.8" fill="#4bc0c0"/><rect x="1561" y="372.1" width="10.3" height="7.8" fill="#ff6384"/><rect x="1632.8" y="372.1" width="10.3" height="7.8" fill="#36a2eb"/><rect x="1697.2" y="372.1" width="10.3" height="7.8" fill="#ffcd56"/><rect x="1763.3" y="372.1" width="10.3" height="7.8" fill="#4bc0c0"/></svg>
<span class="t" style="left:1174.30px;top:349.30px;font-size:10px;line-height:13px;color:#666;letter-spacing:-0.015px;">Браузер Chrome</span>
<span class="t" style="left:1278.20px;top:349.30px;font-size:10px;line-height:13px;color:#666;letter-spacing:-0.031px;">Устройства Android</span>
<span class="t" style="left:1394.40px;top:349.30px;font-size:10px;line-height:13px;color:#666;letter-spacing:-0.016px;">WinAmp</span>
<span class="t" style="left:1269.90px;top:369.30px;font-size:10px;line-height:13px;color:#666;letter-spacing:-0.027px;">Браузер Safari</span>
<span class="t" style="left:1577.30px;top:369.30px;font-size:10px;line-height:13px;color:#666;letter-spacing:-0.030px;">10-60 min</span>
<span class="t" style="left:1649.40px;top:369.30px;font-size:10px;line-height:13px;color:#666;letter-spacing:-0.056px;">1-7 hour</span>
<span class="t" style="left:1713.80px;top:369.30px;font-size:10px;line-height:13px;color:#666;letter-spacing:-0.088px;">1-10 min</span>
<span class="t" style="left:1779.60px;top:369.30px;font-size:10px;line-height:13px;color:#666;letter-spacing:0.014px;">&gt; 7 hour</span>
<span class="t" style="left:1261.60px;top:404.30px;font-size:15.2px;line-height:19px;color:#6c757d;font-weight:700;letter-spacing:-0.114px;">Клиенты</span>
<span class="t" style="left:1604.00px;top:404.30px;font-size:15.2px;line-height:19px;color:#6c757d;font-weight:700;letter-spacing:-0.317px;">Время прослушивания</span>
<span class="t" style="left:1417.30px;top:430.30px;font-size:15.2px;line-height:19px;color:#212529;font-weight:700;letter-spacing:-0.415px;">Всего слушателей: 9</span>
<span class="t" style="left:1108.10px;top:137.30px;font-size:16.3px;line-height:20px;color:#fff;letter-spacing:0.281px;">Графики</span>
<div class="abs card" style="left:265.5px;top:682px;width:807.5px;height:420px"><div class="abs ch"></div></div>
<span class="t" style="left:285.30px;top:694.30px;font-size:16.3px;line-height:20px;color:#fff;letter-spacing:0.028px;">Слушатели на карте</span>
<svg class="i" style="left:286px;top:748px" width="767" height="290" viewBox="0 0 767 290"><defs><filter id="bl1" x="-5%" y="-5%" width="110%" height="110%"><feTurbulence type="fractalNoise" baseFrequency="0.055" numOctaves="3" seed="11" result="n"/><feDisplacementMap in="SourceGraphic" in2="n" scale="22" xChannelSelector="R" yChannelSelector="G" result="d"/><feGaussianBlur in="d" stdDeviation=".5"/></filter><filter id="spk" x="0" y="0" width="100%" height="100%"><feTurbulence type="fractalNoise" baseFrequency="0.16" numOctaves="2" seed="5" result="n"/><feColorMatrix in="n" type="matrix" values="0 0 0 0 0.83  0 0 0 0 0.915  0 0 0 0 0.84  0 0 0 16 -10.7"/></filter><filter id="bl3"><feGaussianBlur stdDeviation="3.5"/></filter><filter id="bsh" x="-30%" y="-30%" width="160%" height="180%"><feDropShadow dx="0" dy="1" stdDeviation="1.2" flood-color="#000" flood-opacity=".3"/></filter></defs><rect width="767" height="290" fill="#bae0c0"/><g filter="url(#bl1)"><path d="M-5.1 -5.1C3.4 -14.4 37.0 -8.5 45.9 -5.1C54.8 -1.7 49.7 8.9 48.4 15.3C47.1 21.7 41.2 27.2 38.2 33.1C35.3 39.1 34.4 47.4 30.6 51.0C26.8 54.6 21.2 54.8 15.3 54.8C9.3 54.8 -1.7 60.9 -5.1 51.0C-8.5 41.0 -13.6 4.2 -5.1 -5.1Z" fill="#d3e9d5" opacity=".7"/><path d="M15.3 54.8C20.4 52.7 29.3 55.4 33.1 58.6C37.0 61.8 39.1 68.8 38.2 73.9C37.4 79.0 32.7 87.1 28.0 89.2C23.4 91.3 14.4 89.6 10.2 86.6C5.9 83.7 1.7 76.7 2.5 71.4C3.4 66.0 10.2 56.9 15.3 54.8Z" fill="#d3e9d5" opacity=".3"/><path d="M113.4 -5.1C128.9 -7.6 202.4 -9.8 220.4 -5.1C238.5 -0.4 219.2 15.3 221.7 22.9C224.3 30.6 231.8 35.9 235.7 40.8C239.6 45.7 243.9 47.8 245.2 52.2C246.4 56.7 244.2 62.0 243.4 67.5C242.5 73.1 242.4 83.9 240.1 85.4C237.7 86.9 232.4 80.7 229.4 76.5C226.3 72.2 224.3 64.1 221.7 59.9C219.1 55.6 216.5 53.7 213.6 51.0C210.6 48.2 207.2 46.5 203.9 43.3C200.6 40.1 197.9 35.0 193.7 31.9C189.4 28.7 183.5 26.0 178.4 24.2C173.3 22.4 169.0 22.3 163.1 20.9C157.2 19.5 148.7 17.6 142.7 15.8C136.8 14.0 132.3 13.7 127.4 10.2C122.5 6.7 97.9 -2.5 113.4 -5.1Z" fill="#d3e9d5" opacity=".75"/><path d="M276.5 22.9C278.6 17.4 288.2 16.1 293.1 17.8C298.0 19.5 304.1 26.3 305.8 33.1C307.5 39.9 305.8 53.1 303.3 58.6C300.7 64.1 294.3 67.5 290.5 66.3C286.7 65.0 282.7 58.2 280.3 51.0C278.0 43.7 274.4 28.5 276.5 22.9Z" fill="#d3e9d5" opacity=".45"/><path d="M219.2 280.3C191.3 278.9 223.9 275.0 226.6 271.9C229.2 268.9 230.5 264.0 235.2 262.0C239.9 260.0 248.2 260.6 254.8 259.9C261.5 259.3 268.1 260.5 275.2 258.2C282.4 255.8 291.4 247.5 297.7 245.7C303.9 243.8 307.5 248.0 312.7 246.9C317.9 245.9 323.5 242.1 328.7 239.6C334.0 237.0 337.3 233.4 344.0 231.9C350.7 230.4 360.7 232.1 369.0 230.6C377.3 229.2 389.8 215.0 394.0 223.2C398.1 231.5 423.1 270.8 394.0 280.3C364.8 289.8 247.1 281.7 219.2 280.3Z" fill="#d3e9d5" opacity=".85"/><path d="M525.4 -5.1C566.6 -8.5 732.5 -38.2 773.9 -5.1C815.3 28.0 779.4 163.1 773.9 193.7C768.4 224.3 750.5 184.1 740.8 178.4C731.0 172.7 723.8 165.0 715.3 159.3C706.8 153.5 698.3 148.2 689.8 144.0C681.3 139.7 672.8 136.3 664.3 133.8C655.8 131.2 646.1 130.4 638.8 128.7C631.6 127.0 626.1 126.4 621.0 123.6C615.9 120.8 612.9 115.7 608.3 112.1C603.6 108.5 598.1 106.6 593.0 101.9C587.9 97.3 581.9 90.5 577.7 84.1C573.4 77.7 570.0 70.9 567.5 63.7C564.9 56.5 565.8 45.7 562.4 40.8C559.0 35.9 552.0 35.3 547.1 34.4C542.2 33.6 536.5 38.9 533.1 35.7C529.7 32.5 528.0 22.1 526.7 15.3C525.4 8.5 484.2 -1.7 525.4 -5.1Z" fill="#d3e9d5" /><path d="M577.7 31.9C581.5 25.9 592.1 24.8 598.1 28.0C604.0 31.2 611.2 42.9 613.4 51.0C615.5 59.0 612.5 70.5 610.8 76.5C609.1 82.4 607.0 85.4 603.2 86.6C599.3 87.9 592.5 87.9 587.9 84.1C583.2 80.3 576.8 72.4 575.1 63.7C573.4 55.0 573.9 37.8 577.7 31.9Z" fill="#bae0c0" opacity=".85"/><path d="M534.4 35.7C539.0 30.1 552.5 30.6 557.3 33.1C562.0 35.7 562.8 44.5 562.9 51.0C563.0 57.4 561.3 66.3 557.8 71.9C554.3 77.5 546.8 85.5 542.0 84.6C537.2 83.8 530.5 74.9 529.3 66.8C528.0 58.6 529.7 41.3 534.4 35.7Z" fill="#d3e9d5" opacity=".8"/><path d="M544.6 122.8C547.7 120.2 556.0 117.7 562.4 117.2C568.8 116.7 577.2 117.2 582.8 119.8C588.4 122.3 594.7 127.0 596.0 132.5C597.4 138.0 594.8 149.0 590.9 152.9C587.0 156.8 579.0 157.2 572.6 156.0C566.1 154.8 557.1 149.6 552.2 145.8C547.3 141.9 544.6 136.9 543.3 133.0C542.0 129.2 541.4 125.5 544.6 122.8Z" fill="#d3e9d5" opacity=".85"/><path d="M628.6 132.5C634.6 127.8 649.0 128.3 659.2 130.0C669.4 131.7 679.6 138.0 689.8 142.7C700.0 147.4 710.2 152.1 720.4 158.0C730.6 163.9 742.1 172.4 751.0 178.4C759.9 184.3 770.1 186.9 773.9 193.7C777.7 200.5 779.4 215.8 773.9 219.2C768.4 222.6 750.5 216.6 740.8 214.1C731.0 211.5 723.8 206.4 715.3 203.9C706.8 201.3 698.3 201.3 689.8 198.8C681.3 196.2 672.8 192.0 664.3 188.6C655.8 185.2 645.6 183.5 638.8 178.4C632.0 173.3 625.3 165.6 623.6 158.0C621.9 150.4 622.7 137.2 628.6 132.5Z" fill="#bae0c0" opacity=".75"/><path d="M730.6 66.3C733.6 63.3 746.3 59.5 751.0 61.2C755.6 62.9 759.5 72.2 758.6 76.5C757.8 80.7 750.1 86.2 745.9 86.6C741.6 87.1 735.7 82.4 733.1 79.0C730.6 75.6 727.6 69.2 730.6 66.3Z" fill="#bae0c0" opacity=".8"/><path d="M350.9 230.6C353.9 221.3 362.2 225.7 369.0 224.5C375.7 223.3 382.2 223.7 391.4 223.2C400.6 222.8 415.6 222.4 424.0 222.0C432.4 221.5 435.9 222.1 441.6 220.7C447.2 219.2 451.7 214.5 457.9 213.3C464.1 212.1 473.4 212.3 479.1 213.3C484.7 214.3 488.4 215.9 491.5 219.4C494.7 222.9 493.8 234.0 497.9 234.5C502.1 234.9 509.3 225.7 516.5 222.2C523.8 218.7 533.2 215.4 541.5 213.3C549.8 211.2 558.7 211.0 566.5 209.5C574.2 208.0 581.8 206.9 587.9 204.4C594.0 201.8 597.2 195.5 603.2 194.2C609.1 192.9 615.9 195.0 623.6 196.7C631.2 198.4 641.0 201.0 649.0 204.4C657.1 207.8 667.2 212.9 672.0 217.1C676.7 221.4 674.6 227.7 677.6 229.9C680.6 232.0 681.4 229.0 689.8 229.9C698.2 230.7 714.0 235.0 728.0 235.0C742.1 234.9 766.3 221.8 773.9 229.4C781.6 236.9 844.4 271.8 773.9 280.3C703.4 288.8 421.4 288.6 350.9 280.3C280.4 272.0 347.9 239.9 350.9 230.6Z" fill="#d3e9d5" /><path d="M728.0 235.0C730.6 230.7 738.2 226.9 745.9 224.3C753.5 221.6 769.2 215.8 773.9 219.2C778.6 222.6 778.6 238.7 773.9 244.6C769.2 250.6 753.1 254.0 745.9 254.8C738.7 255.7 733.6 253.1 730.6 249.7C727.6 246.4 725.5 239.2 728.0 235.0Z" fill="#c6e4ca" opacity=".8"/><path d="M526.7 280.3C491.7 277.0 531.0 264.6 536.9 260.4C542.9 256.3 554.3 257.5 562.4 255.4C570.5 253.2 579.8 247.7 585.3 247.7C590.8 247.7 590.8 253.7 595.5 255.4C600.2 257.1 606.1 258.6 613.4 257.9C620.6 257.2 630.3 252.1 638.8 251.3C647.3 250.4 655.8 252.1 664.3 252.8C672.8 253.5 681.3 254.5 689.8 255.4C698.3 256.2 707.6 255.8 715.3 257.9C722.9 260.0 730.4 264.4 735.7 268.1C741.0 271.8 782.0 278.3 747.1 280.3C712.3 282.4 561.8 283.6 526.7 280.3Z" fill="#f1f0e2" /></g><g filter="url(#bl3)"><path d="M506.3 -5.1C511.1 -11.0 529.5 -11.0 533.1 -5.1C536.7 0.8 530.7 17.0 528.0 30.6C525.2 44.2 519.5 60.3 516.5 76.5C513.5 92.6 511.8 110.4 510.1 127.4C508.4 144.4 507.0 161.4 506.3 178.4C505.7 195.4 507.0 212.4 506.3 229.4C505.7 246.3 505.3 271.8 502.5 280.3C499.7 288.8 491.5 288.8 489.8 280.3C488.1 271.8 491.6 246.3 492.3 229.4C493.0 212.4 493.5 195.4 494.1 178.4C494.7 161.4 495.0 144.4 496.1 127.4C497.2 110.4 499.4 92.6 500.7 76.5C502.1 60.3 503.4 44.2 504.3 30.6C505.2 17.0 501.5 0.8 506.3 -5.1Z" fill="#a6cdbf" opacity=".22"/></g><rect width="767" height="290" filter="url(#spk)" opacity=".3"/><path d="M80.0 -5.1C75.0 -4.1 81.9 -3.5 80.0 0.0C78.2 3.5 73.5 7.0 70.8 12.5C68.2 18.0 66.9 22.5 66.8 27.5C66.6 32.5 70.7 33.6 70.1 37.5C69.4 41.3 65.8 43.1 63.5 46.6C61.1 50.2 61.7 51.7 58.4 55.0C55.0 58.4 51.3 60.1 46.6 63.5C41.9 66.8 38.6 67.6 34.9 71.6C31.2 75.6 30.4 79.7 28.3 83.3C26.1 87.0 25.4 87.0 24.2 90.0C23.0 93.0 22.6 95.0 22.4 98.4C22.3 101.7 22.9 103.5 23.4 106.8C24.0 110.1 23.3 110.8 25.0 114.9C26.6 119.1 29.0 123.1 31.6 127.4C34.2 131.8 37.0 133.7 38.0 136.6C39.0 139.4 36.1 139.3 36.7 141.7C37.3 144.0 40.3 145.7 40.8 148.3C41.3 151.0 40.2 152.4 39.2 154.9C38.3 157.4 37.3 158.5 35.9 160.8C34.6 163.1 34.3 164.2 32.6 166.7C30.9 169.2 30.9 170.6 27.5 173.3C24.2 175.9 18.5 175.9 15.8 179.9C13.1 183.9 14.7 187.9 14.0 193.2C13.3 198.5 12.7 201.7 12.2 206.4C11.7 211.2 12.1 213.0 11.5 216.9C10.8 220.7 10.1 223.3 8.9 225.8C7.7 228.3 8.2 228.4 5.4 229.4C2.5 230.3 -3.0 222.5 -5.1 230.6C-7.2 238.8 -6.1 262.6 -5.1 270.1C-4.1 277.6 -3.1 269.9 0.0 268.1C3.1 266.3 2.9 262.1 10.4 261.0C18.0 259.8 30.9 261.5 38.0 262.2C45.1 262.9 43.1 265.3 45.9 264.5C48.7 263.8 48.5 260.9 52.0 258.4C55.5 256.0 61.1 255.7 63.5 252.3C65.8 248.9 63.7 246.2 63.7 241.6C63.8 237.0 63.6 234.7 63.7 229.4C63.8 224.1 63.0 220.4 64.2 215.1C65.4 209.8 67.4 206.2 69.6 202.9C71.7 199.5 72.5 199.9 74.9 198.5C77.4 197.1 79.9 195.0 81.8 195.7C83.7 196.4 83.2 199.6 84.6 202.1C86.0 204.6 87.0 206.5 88.9 208.2C90.9 209.9 91.8 210.4 94.3 210.8C96.7 211.1 99.7 212.1 101.2 210.0C102.7 207.8 101.4 203.7 101.7 200.1C102.0 196.4 102.1 194.9 102.7 191.6C103.3 188.4 105.2 185.3 104.5 184.0C103.7 182.7 101.1 185.8 98.9 185.0C96.6 184.2 94.6 182.3 93.3 179.9C91.9 177.6 92.5 176.5 92.3 173.3C92.0 170.1 90.9 166.4 92.3 163.9C93.6 161.3 95.9 162.0 98.9 160.6C101.9 159.1 103.9 157.7 107.3 156.7C110.7 155.7 112.9 155.7 115.7 155.5C118.5 155.2 118.3 154.9 121.0 155.5C123.8 156.0 125.7 157.2 129.5 158.3C133.2 159.3 135.2 160.5 139.9 160.6C144.6 160.6 148.9 159.4 152.9 158.5C156.9 157.6 157.5 157.1 160.0 156.0C162.6 154.8 163.7 154.1 165.6 152.9C167.6 151.7 169.1 151.1 170.0 149.8C170.9 148.6 172.2 148.9 170.2 146.8C168.2 144.6 165.7 141.2 160.0 139.1C154.3 137.1 149.0 136.9 141.7 136.6C134.4 136.3 130.0 136.4 123.3 137.6C116.7 138.8 112.4 141.1 108.3 142.5C104.2 143.8 105.5 143.4 102.7 144.2C99.9 145.1 97.5 145.7 94.3 146.8C91.1 147.9 89.8 150.3 86.6 149.6C83.5 148.9 81.3 146.1 78.5 143.5C75.7 140.9 75.0 140.1 72.6 136.6C70.3 133.1 67.6 129.4 66.8 125.9C65.9 122.4 67.5 122.8 68.3 119.3C69.1 115.7 70.6 112.5 70.8 108.3C71.0 104.1 70.3 102.0 69.3 98.4C68.3 94.7 66.9 93.0 66.0 90.0C65.1 87.0 64.8 86.3 65.0 83.3C65.1 80.3 65.7 78.1 66.8 74.9C67.8 71.8 67.9 69.4 70.1 67.5C72.2 65.7 74.8 68.4 77.5 65.7C80.1 63.1 80.6 57.6 83.3 54.3C86.0 51.0 89.0 51.0 91.0 49.2C93.0 47.3 91.1 48.0 93.3 45.1C95.4 42.3 99.5 38.4 101.7 34.9C103.9 31.4 101.7 30.0 104.2 27.5C106.7 25.0 112.7 26.2 114.2 22.4C115.6 18.6 113.5 12.5 111.6 8.4C109.8 4.3 106.3 4.5 105.0 1.8C103.7 -0.9 110.0 -3.7 105.0 -5.1C100.0 -6.5 85.0 -6.1 80.0 -5.1Z" fill="#93cbeb" /><path d="M44.1 189.6C44.7 190.2 39.6 195.0 38.7 197.5C37.8 200.0 39.8 202.1 38.7 204.6C37.7 207.1 33.9 213.0 32.6 212.5C31.3 212.1 30.4 205.1 30.8 202.1C31.3 199.0 33.0 196.3 35.2 194.2C37.4 192.1 43.5 189.1 44.1 189.6Z" fill="#bae0c0" /><path d="M18.9 204.6C18.1 207.6 13.5 223.0 12.2 225.8C11.0 228.6 10.7 224.4 11.5 221.5C12.2 218.5 15.6 211.0 16.8 208.2C18.1 205.4 19.6 201.7 18.9 204.6Z" fill="#bae0c0" /><path d="M47.4 141.7C47.4 140.5 50.8 138.0 52.2 137.9C53.6 137.7 55.8 139.5 55.8 140.7C55.9 141.8 53.9 144.6 52.5 144.8C51.1 144.9 47.4 142.8 47.4 141.7Z" fill="#bae0c0" /><path d="M76.7 170.2C76.7 169.5 81.2 167.1 82.1 167.2C82.9 167.3 86.7 170.6 86.6 171.3C86.6 172.0 82.4 175.7 81.5 175.6C80.7 175.5 76.7 170.9 76.7 170.2Z" fill="#bae0c0" /><path d="M73.4 181.4C73.8 180.1 76.8 178.4 79.0 177.6C81.2 176.8 84.7 176.9 86.6 176.6C88.6 176.4 90.6 175.6 91.0 176.1C91.4 176.6 90.6 178.3 89.2 179.7C87.8 181.0 84.9 183.0 82.8 184.0C80.7 185.0 78.0 185.9 76.5 185.5C74.9 185.1 73.0 182.8 73.4 181.4Z" fill="#bae0c0" /><path d="M75.2 187.3C75.7 186.5 76.9 185.5 77.0 186.0C77.0 186.6 76.2 189.8 75.7 190.6C75.2 191.5 74.0 191.7 73.9 191.1C73.8 190.6 74.7 188.2 75.2 187.3Z" fill="#bae0c0" /><path d="M168.2 114.7C169.3 113.2 171.2 110.6 173.3 109.6C175.4 108.5 178.6 107.9 180.9 108.3C183.3 108.7 185.2 110.2 187.3 112.1C189.4 114.0 191.9 117.0 193.7 119.8C195.5 122.5 197.6 126.1 198.3 128.7C198.9 131.2 198.7 133.4 197.5 135.1C196.3 136.8 193.7 138.7 191.1 138.9C188.6 139.1 185.0 137.6 182.2 136.3C179.5 135.1 176.7 133.2 174.6 131.2C172.4 129.3 170.7 127.0 169.5 124.9C168.2 122.7 167.1 120.2 166.9 118.5C166.7 116.8 167.1 116.2 168.2 114.7Z" fill="#93cbeb" /><path d="M219.2 80.3C219.9 79.0 221.7 81.8 223.0 84.1C224.3 86.4 225.1 90.9 226.8 94.3C228.5 97.7 231.4 101.3 233.2 104.5C235.0 107.7 237.0 110.6 237.5 113.4C238.1 116.2 237.5 120.0 236.5 121.0C235.5 122.1 233.1 121.0 231.4 119.8C229.7 118.5 227.9 116.2 226.3 113.4C224.7 110.6 223.0 106.8 221.7 103.2C220.4 99.6 219.1 95.6 218.7 91.7C218.2 87.9 218.4 81.5 219.2 80.3Z" fill="#93cbeb" /><path d="M254.3 169.5C255.0 168.5 257.3 169.0 258.7 170.2C260.0 171.5 261.0 175.1 262.5 177.1C264.0 179.1 267.2 180.7 267.6 182.2C268.0 183.7 266.4 186.0 265.0 186.0C263.7 186.0 261.1 183.9 259.4 182.2C257.7 180.5 255.7 178.0 254.8 175.8C254.0 173.7 253.7 170.4 254.3 169.5Z" fill="#93cbeb" /><path d="M133.8 169.5C134.5 168.0 137.7 167.1 138.9 168.2C140.0 169.3 140.0 172.4 140.7 175.8C141.3 179.2 142.8 186.0 142.7 188.6C142.6 191.1 141.0 192.1 140.2 191.1C139.3 190.2 138.5 185.3 137.6 183.0C136.7 180.6 135.2 179.4 134.6 177.1C133.9 174.9 133.1 171.0 133.8 169.5Z" fill="#93cbeb" /><path d="M177.1 182.2C178.0 181.2 182.2 180.9 183.5 181.4C184.8 182.0 185.9 184.5 185.0 185.5C184.2 186.5 179.7 187.9 178.4 187.3C177.1 186.8 176.3 183.2 177.1 182.2Z" fill="#93cbeb" /><ellipse cx="254.3" cy="142.2" rx="3.1" ry="2.3" fill="#93cbeb" transform="rotate(0 254.3 142.2)"/><ellipse cx="268.1" cy="132.5" rx="1.0" ry="2.5" fill="#93cbeb" transform="rotate(-15 268.1 132.5)"/><path d="M156.7 62.4C156.9 61.6 158.9 62.0 160.6 63.7C162.2 65.4 166.3 70.8 166.9 72.6C167.6 74.4 165.6 75.1 164.4 74.4C163.1 73.8 160.6 70.8 159.3 68.8C158.0 66.8 156.5 63.3 156.7 62.4Z" fill="#93cbeb" /><path d="M145.8 93.8C145.1 92.1 146.4 93.1 147.8 94.8C149.2 96.5 153.5 102.3 154.2 104.0C154.8 105.7 153.0 106.7 151.6 105.0C150.2 103.3 146.4 95.5 145.8 93.8Z" fill="#93cbeb" /><path d="M161.8 86.6C162.5 85.6 164.2 84.3 164.4 85.4C164.6 86.4 163.7 92.0 163.1 93.0C162.5 94.1 160.8 92.8 160.6 91.7C160.3 90.7 161.2 87.7 161.8 86.6Z" fill="#93cbeb" /><path d="M139.7 114.2C138.8 113.0 140.9 112.7 142.7 113.4C144.5 114.1 149.5 117.4 150.4 118.5C151.2 119.6 149.6 121.0 147.8 120.3C146.0 119.6 140.5 115.3 139.7 114.2Z" fill="#93cbeb" /><path d="M130.0 35.7C131.2 35.0 137.3 35.6 138.9 36.2C140.5 36.8 140.9 38.8 139.7 39.5C138.4 40.2 132.9 40.9 131.2 40.3C129.6 39.6 128.7 36.4 130.0 35.7Z" fill="#93cbeb" /><path d="M113.9 107.0C114.4 105.8 115.4 106.6 115.4 108.3C115.5 110.0 114.7 116.0 114.2 117.2C113.7 118.5 112.4 117.7 112.4 116.0C112.3 114.3 113.4 108.3 113.9 107.0Z" fill="#93cbeb" /><path d="M203.9 65.0C204.9 63.7 210.0 62.6 211.5 63.2C213.0 63.8 213.9 67.5 212.8 68.8C211.7 70.1 206.6 71.5 205.1 70.8C203.7 70.2 202.8 66.3 203.9 65.0Z" fill="#93cbeb" /><path d="M184.0 1.3C184.6 0.6 188.2 1.1 189.9 2.5C191.5 4.0 193.6 8.7 193.7 10.2C193.8 11.7 191.9 12.1 190.6 11.5C189.3 10.8 187.1 8.1 186.0 6.4C184.9 4.7 183.4 1.9 184.0 1.3Z" fill="#93cbeb" /><path d="M152.9 101.9C152.8 100.5 154.9 100.2 156.0 101.4C157.0 102.6 159.1 107.6 159.3 109.1C159.4 110.5 157.8 111.3 156.7 110.1C155.7 108.9 153.0 103.4 152.9 101.9Z" fill="#93cbeb" /><path d="M219.7 76.5C219.5 75.0 221.2 74.8 222.2 75.9C223.2 77.1 225.4 82.1 225.5 83.6C225.7 85.0 224.2 85.8 223.2 84.6C222.3 83.4 219.8 77.9 219.7 76.5Z" fill="#93cbeb" /><path d="M178.4 45.9C178.7 44.9 180.8 44.5 181.4 45.4C182.1 46.2 182.8 49.9 182.5 51.0C182.1 52.0 180.1 52.3 179.4 51.5C178.7 50.6 178.0 46.9 178.4 45.9Z" fill="#93cbeb" /><path d="M222.5 -5.0C211.5 -3.1 221.0 3.6 220.0 6.7C219.0 9.7 216.8 10.8 216.7 13.3C216.6 15.8 218.6 19.2 219.6 21.7C220.6 24.2 221.8 26.1 222.5 28.4C223.2 30.6 222.8 32.8 223.8 35.0C224.7 37.3 226.1 39.6 228.4 41.7C230.7 43.8 234.5 45.8 237.5 47.5C240.6 49.3 244.3 51.0 246.7 52.1C249.1 53.2 249.9 54.6 251.7 54.2C253.5 53.9 256.6 51.8 257.5 50.0C258.5 48.2 257.8 45.2 257.1 43.4C256.4 41.5 255.1 40.5 253.4 38.8C251.6 37.1 248.7 35.4 246.7 33.4C244.8 31.3 242.7 28.5 241.7 26.7C240.7 24.9 240.3 23.7 240.9 22.5C241.4 21.3 243.2 19.7 245.0 19.6C246.8 19.5 249.5 20.8 251.7 21.7C253.9 22.6 256.2 23.8 258.4 25.0C260.6 26.3 262.8 27.9 265.1 29.2C267.3 30.5 269.6 32.0 271.7 32.9C273.8 33.8 275.8 34.8 277.6 34.6C279.3 34.4 281.7 33.3 282.2 31.7C282.6 30.1 280.8 27.5 280.1 25.0C279.3 22.5 277.8 19.5 277.6 16.7C277.3 13.9 277.4 10.7 278.4 8.3C279.4 6.0 282.2 4.7 283.4 2.5C284.7 0.3 296.1 -3.8 285.9 -5.0C275.8 -6.3 233.5 -7.0 222.5 -5.0Z" fill="#93cbeb" /><path d="M219.2 35.9C218.5 37.7 215.4 43.2 215.0 46.7C214.6 50.2 215.6 53.4 216.7 56.7C217.8 60.1 221.0 63.0 221.7 66.7C222.4 70.5 219.9 75.2 220.9 79.2C221.8 83.3 226.4 89.0 227.5 90.9" fill="none" stroke="#8fc9f0" stroke-width="0.9" stroke-linecap="round" stroke-linejoin="round"/><path d="M204.6 64.2C205.4 63.4 209.0 63.8 210.0 64.6C211.0 65.5 211.2 68.4 210.4 69.2C209.7 70.1 206.4 70.5 205.4 69.6C204.4 68.8 203.8 65.1 204.6 64.2Z" fill="#93cbeb" /><path d="M285.4 34.9C287.1 36.1 292.9 39.4 295.6 42.0C298.4 44.7 300.3 47.4 302.0 51.0C303.7 54.6 303.7 59.5 305.8 63.7C307.9 68.0 310.9 72.2 314.7 76.5C318.6 80.7 324.3 84.9 328.7 89.2C333.2 93.4 337.2 97.7 341.5 101.9C345.7 106.2 351.7 111.7 354.2 114.7C356.8 117.7 356.4 118.9 356.8 119.8" fill="none" stroke="#8fc9f0" stroke-width="0.9" stroke-linecap="round" stroke-linejoin="round"/><path d="M356.8 119.8C358.5 118.5 363.6 115.1 367.0 112.1C370.4 109.2 373.8 104.5 377.2 101.9C380.6 99.4 385.7 97.7 387.4 96.8" fill="none" stroke="#8fc9f0" stroke-width="0.9" stroke-linecap="round" stroke-linejoin="round"/><path d="M356.8 119.8C355.9 120.6 354.7 122.7 351.7 124.9C348.7 127.0 343.6 129.5 338.9 132.5C334.3 135.5 329.2 138.9 323.6 142.7C318.1 146.5 312.2 152.3 305.8 155.5C299.4 158.6 290.7 161.8 285.4 161.8C280.1 161.8 277.8 157.6 274.0 155.5C270.1 153.3 264.4 150.1 262.5 149.1" fill="none" stroke="#8fc9f0" stroke-width="0.9" stroke-linecap="round" stroke-linejoin="round"/><path d="M198.3 128.7C200.1 128.1 205.5 125.9 209.0 124.9C212.5 123.8 215.6 123.1 219.2 122.3C222.8 121.6 228.7 120.6 230.6 120.3" fill="none" stroke="#8fc9f0" stroke-width="0.9" stroke-linecap="round" stroke-linejoin="round"/><path d="M185.0 183.5C185.6 180.1 187.6 170.5 188.6 163.1C189.6 155.7 190.7 142.9 191.1 138.9" fill="none" stroke="#8fc9f0" stroke-width="0.9" stroke-linecap="round" stroke-linejoin="round"/><path d="M170.0 147.8C171.4 147.0 176.4 144.6 178.4 142.7C180.4 140.8 181.6 137.4 182.2 136.3" fill="none" stroke="#8fc9f0" stroke-width="1.3" stroke-linecap="round" stroke-linejoin="round"/><path d="M175.8 277.8C177.1 274.4 181.4 262.9 183.5 257.4C185.6 251.9 186.0 248.0 188.6 244.6C191.1 241.3 195.0 238.1 198.8 237.0C202.6 235.9 206.8 237.4 211.5 238.3C216.2 239.1 224.3 241.5 226.8 242.1" fill="none" stroke="#8fc9f0" stroke-width="0.9" stroke-linecap="round" stroke-linejoin="round"/><path d="M244.6 193.7C243.4 194.3 239.3 198.4 237.0 197.5C234.7 196.7 231.3 192.2 230.6 188.6C230.0 185.0 230.8 178.7 233.2 175.8C235.5 173.0 241.0 170.8 244.6 171.3C248.3 171.7 251.9 175.9 254.8 178.4C257.8 180.9 261.2 184.8 262.5 186.0" fill="none" stroke="#8fc9f0" stroke-width="0.9" stroke-linecap="round" stroke-linejoin="round"/><path d="M267.6 183.5C269.7 185.2 275.7 191.6 280.3 193.7C285.0 195.8 290.1 194.5 295.6 196.2C301.1 197.9 309.6 200.5 313.5 203.9C317.3 207.3 315.6 213.2 318.6 216.6C321.5 220.0 326.6 222.8 331.3 224.3C336.0 225.7 341.5 225.5 346.6 225.5C351.7 225.5 357.2 224.5 361.9 224.3C366.5 224.0 370.4 223.8 374.6 224.3C378.9 224.8 385.2 226.8 387.4 227.3" fill="none" stroke="#8fc9f0" stroke-width="0.9" stroke-linecap="round" stroke-linejoin="round"/><path d="M101.9 201.3C103.6 203.0 108.7 207.7 112.1 211.5C115.5 215.3 119.8 220.4 122.3 224.3C124.9 228.1 124.9 232.3 127.4 234.5C130.0 236.6 133.8 235.7 137.6 237.0C141.4 238.3 146.1 241.7 150.4 242.1C154.6 242.5 158.4 240.8 163.1 239.6C167.8 238.3 175.0 237.0 178.4 234.5C181.8 231.9 182.6 226.0 183.5 224.3" fill="none" stroke="#8fc9f0" stroke-width="0.9" stroke-linecap="round" stroke-linejoin="round"/><path d="M333.8 183.5C334.3 182.6 335.1 180.1 336.4 178.4C337.7 176.7 338.9 173.7 341.5 173.3C344.0 172.9 347.9 175.0 351.7 175.8C355.5 176.7 361.9 177.1 364.4 178.4C367.0 179.7 368.2 181.4 367.0 183.5C365.7 185.6 361.0 189.0 356.8 191.1C352.5 193.3 344.7 193.3 341.5 196.2C338.3 199.2 336.8 204.7 337.7 209.0C338.5 213.2 342.6 219.2 346.6 221.7C350.6 224.3 359.3 223.8 361.9 224.3" fill="none" stroke="#8fc9f0" stroke-width="0.9" stroke-linecap="round" stroke-linejoin="round"/><path d="M265.0 277.8C265.5 276.1 267.8 270.6 267.6 267.6C267.4 264.6 264.4 261.2 263.8 259.9" fill="none" stroke="#8fc9f0" stroke-width="0.9" stroke-linecap="round" stroke-linejoin="round"/><path d="M65.7 230.6C68.4 231.1 76.4 233.4 81.5 233.2C86.7 233.0 91.7 229.1 96.8 229.4C101.9 229.6 109.6 233.6 112.1 234.5" fill="none" stroke="#8fc9f0" stroke-width="0.9" stroke-linecap="round" stroke-linejoin="round"/><path d="M477.0 -2.5C477.7 0.4 480.0 9.8 480.8 15.3C481.7 20.8 482.3 25.5 482.1 30.6C481.9 35.7 481.1 42.0 479.6 45.9C478.1 49.7 475.5 50.5 473.2 53.5C470.9 56.5 467.5 59.9 465.5 63.7C463.6 67.5 461.7 72.2 461.7 76.5C461.7 80.7 463.9 84.9 465.5 89.2C467.2 93.4 470.2 99.3 471.9 101.9C473.6 104.6 475.1 104.5 475.7 105.0" fill="none" stroke="#8fc9f0" stroke-width="0.9" stroke-linecap="round" stroke-linejoin="round"/><path d="M381.5 102.4C384.4 101.5 395.6 96.1 399.3 96.8C402.9 97.6 400.4 106.2 403.4 107.0C406.3 107.9 411.9 101.9 417.1 101.9C422.4 101.9 430.3 107.0 435.0 107.0C439.6 107.0 443.9 104.9 445.2 101.9C446.4 99.0 441.3 91.7 442.6 89.2C443.9 86.6 449.8 88.8 452.8 86.6C455.8 84.5 459.2 78.2 460.5 76.5" fill="none" stroke="#8fc9f0" stroke-width="0.9" stroke-linecap="round" stroke-linejoin="round"/><path d="M435.0 183.5C434.1 181.8 431.6 178.4 429.9 173.3C428.2 168.2 423.5 158.2 424.8 152.9C426.0 147.6 432.0 144.0 437.5 141.4C443.0 138.9 453.2 136.6 457.9 137.6C462.6 138.7 463.9 143.6 465.5 147.8C467.2 152.1 468.5 158.0 468.1 163.1C467.7 168.2 463.6 173.9 463.0 178.4C462.4 182.8 464.3 187.9 464.5 189.9" fill="none" stroke="#8fc9f0" stroke-width="0.9" stroke-linecap="round" stroke-linejoin="round"/><path d="M464.5 189.9C463.4 191.8 460.7 197.7 457.9 201.3C455.1 204.9 451.1 208.5 447.7 211.5C444.3 214.5 440.1 216.2 437.5 219.2C435.0 222.1 433.3 227.7 432.4 229.4" fill="none" stroke="#8fc9f0" stroke-width="1.0" stroke-linecap="round" stroke-linejoin="round"/><path d="M432.4 229.4C431.1 229.6 426.9 229.8 424.8 230.6C422.7 231.5 423.1 233.0 419.7 234.5C416.3 235.9 409.5 237.4 404.4 239.6C399.3 241.7 393.3 245.3 389.1 247.2C384.8 249.1 380.6 250.4 378.9 251.0" fill="none" stroke="#8fc9f0" stroke-width="1.5" stroke-linecap="round" stroke-linejoin="round"/><path d="M384.0 235.7C384.3 237.2 386.4 241.5 386.0 244.6C385.7 247.8 382.9 251.0 382.0 254.8C381.0 258.7 380.5 263.8 380.4 267.6C380.3 271.4 381.3 276.1 381.5 277.8" fill="none" stroke="#8fc9f0" stroke-width="2.0" stroke-linecap="round" stroke-linejoin="round"/><path d="M432.4 229.4C434.5 230.6 440.9 234.5 445.2 237.0C449.4 239.6 455.1 241.3 457.9 244.6C460.7 248.0 461.1 254.8 461.7 256.9" fill="none" stroke="#8fc9f0" stroke-width="0.9" stroke-linecap="round" stroke-linejoin="round"/><path d="M573.9 -2.5C573.6 0.4 572.4 9.8 572.6 15.3C572.8 20.8 575.3 25.5 575.1 30.6C574.9 35.7 572.6 40.8 571.3 45.9C570.0 51.0 568.3 56.5 567.5 61.2C566.6 65.8 565.4 70.1 566.2 73.9C567.1 77.7 569.8 80.3 572.6 84.1C575.3 87.9 579.0 92.6 582.8 96.8C586.6 101.1 591.7 105.8 595.5 109.6C599.3 113.4 601.9 116.8 605.7 119.8C609.5 122.7 616.1 123.6 618.5 127.4C620.8 131.2 620.6 138.0 619.7 142.7C618.9 147.4 615.3 151.2 613.4 155.5C611.4 159.7 609.5 163.9 608.3 168.2C607.0 172.4 607.0 177.5 605.7 180.9C604.4 184.3 601.5 187.3 600.6 188.6" fill="none" stroke="#8fc9f0" stroke-width="1.2" stroke-linecap="round" stroke-linejoin="round"/><path d="M600.6 188.6C603.6 189.4 612.1 191.6 618.5 193.7C624.8 195.8 632.0 198.4 638.8 201.3C645.6 204.3 653.7 208.5 659.2 211.5C664.8 214.5 669.2 216.2 672.0 219.2C674.7 222.1 676.2 226.0 675.8 229.4C675.4 232.8 672.0 236.8 669.4 239.6C666.9 242.3 662.2 243.8 660.5 245.9C658.8 248.0 657.7 249.5 659.2 252.3C660.7 255.1 665.8 258.2 669.4 262.5C673.0 266.7 679.0 275.2 680.9 277.8" fill="none" stroke="#8fc9f0" stroke-width="1.2" stroke-linecap="round" stroke-linejoin="round"/><path d="M608.3 118.5C611.2 118.3 618.9 117.4 626.1 117.2C633.3 117.1 643.1 117.3 651.6 117.7C660.1 118.2 670.7 118.6 677.1 119.8C683.4 121.0 685.1 121.9 689.8 124.9C694.5 127.8 699.6 132.9 705.1 137.6C710.6 142.3 717.0 147.8 722.9 152.9C728.9 158.0 734.8 163.9 740.8 168.2C746.7 172.4 753.1 175.8 758.6 178.4C764.1 181.0 771.4 183.1 773.9 184.0" fill="none" stroke="#8fc9f0" stroke-width="0.9" stroke-linecap="round" stroke-linejoin="round"/><path d="M600.6 188.6C598.5 191.1 591.1 199.2 587.9 203.9C584.7 208.5 583.6 211.9 581.5 216.6C579.4 221.3 576.8 227.2 575.1 231.9C573.4 236.6 573.4 240.8 571.3 244.6C569.2 248.5 565.8 249.3 562.4 254.8C559.0 260.4 552.8 274.0 550.9 277.8" fill="none" stroke="#8fc9f0" stroke-width="1.2" stroke-linecap="round" stroke-linejoin="round"/><path d="M600.6 188.6C598.1 189.9 590.0 195.8 585.3 196.2C580.7 196.7 576.8 194.1 572.6 191.1C568.3 188.2 564.1 183.5 559.8 178.4C555.6 173.3 550.5 164.8 547.1 160.6C543.7 156.3 541.4 154.0 539.5 152.9C537.5 151.8 536.3 154.0 535.6 154.2" fill="none" stroke="#8fc9f0" stroke-width="0.9" stroke-linecap="round" stroke-linejoin="round"/><path d="M753.5 38.2C754.4 40.3 755.2 47.5 758.6 51.0C762.0 54.5 771.4 57.8 773.9 59.1" fill="none" stroke="#8fc9f0" stroke-width="0.9" stroke-linecap="round" stroke-linejoin="round"/><path d="M773.9 239.6C772.2 242.1 766.6 248.5 763.7 254.8C760.8 261.2 757.8 274.0 756.6 277.8" fill="none" stroke="#8fc9f0" stroke-width="1.8" stroke-linecap="round" stroke-linejoin="round"/><ellipse cx="708.2" cy="253.8" rx="1.5" ry="2.3" fill="#93cbeb" transform="rotate(20 708.2 253.8)"/><text x="88.6" y="84.0" font-size="8.2" textLength="63.4" lengthAdjust="spacingAndGlyphs" class="mc">ФИНЛЯНДИЯ</text><text x="0.5" y="98.7" font-size="8.2" textLength="17.1" lengthAdjust="spacingAndGlyphs" class="mc">ЦИЯ</text><text x="93.5" y="181.0" font-size="8.2" textLength="47.5" lengthAdjust="spacingAndGlyphs" class="mc">ЭСТОНИЯ</text><text x="99.6" y="216.5" font-size="8.2" textLength="39.6" lengthAdjust="spacingAndGlyphs" class="mc">ЛАТВИЯ</text><text x="188.9" y="215.1" font-size="9.2" textLength="39.7" lengthAdjust="spacing" class="mr" transform="rotate(28.4 188.9 215.1)">р. Волга</text><text x="307.9" y="220.5" font-size="9.2" textLength="39.7" lengthAdjust="spacing" class="mr" transform="rotate(28.2 307.9 220.5)">р. Волга</text><text x="303.4" y="52.5" font-size="9.2" textLength="87.9" lengthAdjust="spacing" class="mr" transform="rotate(48.5 303.4 52.5)">р. Северная Двина</text><text x="301.2" y="166.7" font-size="9.2" textLength="45.9" lengthAdjust="spacing" class="mr" transform="rotate(-31.8 301.2 166.7)">р. Сухона</text><text x="337.6" y="186.0" font-size="9.2" textLength="10.0" lengthAdjust="spacing" class="mr" transform="rotate(-107.5 337.6 186.0)">р.</text><text x="338.5" y="172.5" font-size="9.2" textLength="35.5" lengthAdjust="spacing" class="mr" transform="rotate(6.3 338.5 172.5)">Ветлуга</text><text x="389.9" y="256.8" font-size="9.2" textLength="34.5" lengthAdjust="spacing" class="mr" transform="rotate(-20.5 389.9 256.8)">р. Кама</text><text x="478.8" y="-4.0" font-size="9.2" textLength="45.2" lengthAdjust="spacing" class="mr" transform="rotate(76.7 478.8 -4.0)">р. Печора</text><text x="578.0" y="80.7" font-size="9.2" textLength="30.8" lengthAdjust="spacing" class="mr" transform="rotate(44.3 578.0 80.7)">р. Обь</text><text x="544.6" y="275.0" font-size="9.2" textLength="39.5" lengthAdjust="spacing" class="mr" transform="rotate(-60.3 544.6 275.0)">р. Тобол</text><text x="696.8" y="102.8" font-size="11.5" textLength="72.7" lengthAdjust="spacing" class="mp" transform="rotate(0.0 696.8 102.8)">Западно-</text><text x="690.6" y="117.0" font-size="11.5" textLength="85.4" lengthAdjust="spacing" class="mp" transform="rotate(0.0 690.6 117.0)">Сибирская</text><text x="699.5" y="130.4" font-size="11.5" textLength="63.2" lengthAdjust="spacing" class="mp" transform="rotate(0.0 699.5 130.4)">равнина</text><circle cx="215.2" cy="104.4" r="2.2" fill="#fff" stroke="#4d4d4d" stroke-width=".95"/><text x="183.5" y="97.6" font-size="9.9" textLength="63.7" lengthAdjust="spacingAndGlyphs" class="ml">Петрозаводск</text><circle cx="108.5" cy="142.3" r="2.2" fill="#fff" stroke="#4d4d4d" stroke-width=".95"/><text x="56.6" y="137.2" font-size="9.9" textLength="48.4" lengthAdjust="spacingAndGlyphs" class="ml">Хельсинки</text><circle cx="169.5" cy="147.4" r="2.2" fill="#fff" stroke="#4d4d4d" stroke-width=".95"/><text x="130.6" y="141.2" font-size="9.9" textLength="78.4" lengthAdjust="spacingAndGlyphs" class="ml">Санкт-Петербург</text><circle cx="30.3" cy="161.4" r="2.2" fill="#fff" stroke="#4d4d4d" stroke-width=".95"/><text x="6.6" y="156.0" font-size="9.9" textLength="47.9" lengthAdjust="spacingAndGlyphs" class="ml">Стокгольм</text><circle cx="58.5" cy="257.6" r="2.2" fill="#fff" stroke="#4d4d4d" stroke-width=".95"/><text x="29.0" y="251.4" font-size="9.9" textLength="59.0" lengthAdjust="spacingAndGlyphs" class="ml">Калининград</text><circle cx="138.4" cy="273.5" r="2.2" fill="#fff" stroke="#4d4d4d" stroke-width=".95"/><text x="123.8" y="268.0" font-size="9.9" textLength="28.8" lengthAdjust="spacingAndGlyphs" class="ml">Минск</text><text x="233.4" y="231.2" font-size="11.6" textLength="38.8" lengthAdjust="spacingAndGlyphs" class="ml">Москва</text><circle cx="285.0" cy="35.0" r="2.2" fill="#fff" stroke="#4d4d4d" stroke-width=".95"/><text x="257.7" y="28.3" font-size="9.9" textLength="56.4" lengthAdjust="spacingAndGlyphs" class="ml">Архангельск</text><circle cx="403.4" cy="107.3" r="2.2" fill="#fff" stroke="#4d4d4d" stroke-width=".95"/><text x="377.8" y="100.9" font-size="9.9" textLength="50.2" lengthAdjust="spacingAndGlyphs" class="ml">Сыктывкар</text><circle cx="464.4" cy="190.4" r="2.2" fill="#fff" stroke="#4d4d4d" stroke-width=".95"/><text x="449.9" y="183.7" font-size="9.9" textLength="29.3" lengthAdjust="spacingAndGlyphs" class="ml">Пермь</text><circle cx="383.5" cy="236.0" r="2.2" fill="#fff" stroke="#4d4d4d" stroke-width=".95"/><text x="367.9" y="230.4" font-size="9.9" textLength="30.9" lengthAdjust="spacingAndGlyphs" class="ml">Казань</text><circle cx="461.4" cy="257.3" r="2.2" fill="#fff" stroke="#4d4d4d" stroke-width=".95"/><text x="453.9" y="251.2" font-size="9.9" textLength="16.1" lengthAdjust="spacingAndGlyphs" class="ml">Уфа</text><text x="482.3" y="209.0" font-size="9.9" textLength="63.1" lengthAdjust="spacingAndGlyphs" class="ml">Екатеринбург</text><circle cx="570.5" cy="207.9" r="2.2" fill="#fff" stroke="#4d4d4d" stroke-width=".95"/><text x="553.8" y="203.0" font-size="9.9" textLength="34.1" lengthAdjust="spacingAndGlyphs" class="ml">Тюмень</text><circle cx="523.4" cy="248.0" r="2.2" fill="#fff" stroke="#4d4d4d" stroke-width=".95"/><text x="499.0" y="243.8" font-size="9.9" textLength="48.4" lengthAdjust="spacingAndGlyphs" class="ml">Челябинск</text><circle cx="659.4" cy="252.2" r="2.2" fill="#fff" stroke="#4d4d4d" stroke-width=".95"/><text x="647.6" y="247.2" font-size="9.9" textLength="24.2" lengthAdjust="spacingAndGlyphs" class="ml">Омск</text><circle cx="767.5" cy="251.5" r="2.2" fill="#fff" stroke="#4d4d4d" stroke-width=".95"/><text x="737.7" y="245.6" font-size="9.9" textLength="66.3" lengthAdjust="spacingAndGlyphs" class="ml">Новосибирск</text><path d="M295.1 101.7L284.49 83.63A12.3 12.3 0 1 1 305.71 83.63Z" fill="#ec3b46"/><ellipse cx="295.1" cy="79.8" rx="5.9" ry="6.6" fill="#fbd9d6"/><path d="M374.9 223.7L364.34 206.00A12.3 12.3 0 1 1 385.46 206.00Z" fill="#ec3b46"/><ellipse cx="374.9" cy="202.1" rx="5.9" ry="6.6" fill="#fbd9d6"/><circle cx="252.3" cy="249.3" r="21.6" fill="#fff" fill-opacity=".72" stroke="#e8494e" stroke-width="1.6"/><circle cx="252.3" cy="249.3" r="13" fill="#ec3b46"/><text x="252.3" y="253.8" font-size="12.6" font-weight="700" fill="#fff" text-anchor="middle" font-family="'Liberation Sans',sans-serif">4</text><circle cx="513.5" cy="215.0" r="21.6" fill="#fff" fill-opacity=".72" stroke="#e8494e" stroke-width="1.6"/><circle cx="513.5" cy="215.0" r="13" fill="#ec3b46"/><text x="513.5" y="219.5" font-size="12.6" font-weight="700" fill="#fff" text-anchor="middle" font-family="'Liberation Sans',sans-serif">2</text><rect x="20.8" y="134.1" width="6" height="160" fill="#fff" fill-opacity=".45" stroke="#9aa" stroke-opacity=".5" stroke-width=".8"/><rect x="9.6" y="108.1" width="28.2" height="27.8" rx="3" fill="#fff" filter="url(#bsh)"/><path d="M16.8 122.0h13.8M23.7 115.1v13.8" stroke="#4d4d4d" stroke-width="3"/><rect x="9.6" y="245.2" width="28.2" height="15.2" rx="3" fill="#fff" filter="url(#bsh)"/><rect x="19.2" y="251.0" width="1" height="1" fill="#888"/><rect x="19.2" y="253.6" width="1" height="1" fill="#888"/><rect x="21.8" y="251.0" width="1" height="1" fill="#888"/><rect x="21.8" y="253.6" width="1" height="1" fill="#888"/><rect x="24.4" y="251.0" width="1" height="1" fill="#888"/><rect x="24.4" y="253.6" width="1" height="1" fill="#888"/><rect x="27.0" y="251.0" width="1" height="1" fill="#888"/><rect x="27.0" y="253.6" width="1" height="1" fill="#888"/><rect x="669.9" y="10.3" width="86" height="27.6" rx="3" fill="#fff" filter="url(#bsh)"/><g fill="none" stroke="#333" stroke-width="1.15" stroke-linejoin="round"><path d="M684.3 16.2l9 3.6-9 3.6-9-3.6z"/><path d="M675.3 22.3l9 3.6 9-3.6"/><path d="M675.3 24.7l9 3.6 9-3.6"/><path d="M675.3 27.1l9 3.6 9-3.6"/></g><text x="700.3" y="28.3" font-size="14" textLength="30.9" lengthAdjust="spacingAndGlyphs" fill="#111" font-family="'Liberation Sans',sans-serif">Слои</text><path d="M737.2 21.5l5.4 5.2 5.4-5.2" fill="none" stroke="#333" stroke-width="1.2"/></svg>
<div class="abs" id="nav"></div><div class="abs" style="left:0;top:0;z-index:21">
<div class="abs" style="left:274px;top:18px;width:14px;height:2px;background:#23272b;box-shadow:0 5px 0 #23272b,0 10px 0 #23272b"></div>
<svg class="i" style="left:303px;top:14px;" width="23" height="23" viewBox="-10.90 -11.00 23 23"><defs><radialGradient id="mbg" cx="52%" cy="58%" r="55%"><stop offset="0" stop-color="#f2640a"/><stop offset=".55" stop-color="#f6881a"/><stop offset=".62" stop-color="#f99a2c"/><stop offset="1" stop-color="#fbac44"/></radialGradient></defs>
<circle r="10.2" fill="url(#mbg)"/>
<path d="M-0.5 -5.5Q3.6 -5.2 4.6 -1.5Q2.8 -3.4 0.9 -3.3V3.6A2.3 1.9 0 1 1 -0.5 2.1Z" fill="#ffe8cb"/></svg>
<svg class="i" style="left:1824px;top:16px" width="16" height="18" viewBox="-5.14 -1.58 505.68 568.89"><path fill="#30363c" d="M448 344v112a23.940 23.940 0 0 1-24 24H312c-21.390 0-32.090-25.900-17-41l36.200-36.200L224 295.600 116.770 402.900 153 439c15.090 15.100 4.390 41-17 41H24a23.940 23.940 0 0 1-24-24V344c0-21.400 25.890-32.100 41-17l36.190 36.200L184.460 256 77.180 148.700 41 185c-15.100 15.100-41 4.400-41-17V56a23.940 23.940 0 0 1 24-24h112c21.390 0 32.090 25.900 17 41l-36.200 36.200L224 216.400l107.230-107.300L295 73c-15.090-15.100-4.390-41 17-41h112a23.940 23.940 0 0 1 24 24v112c0 21.400-25.890 32.100-41 17l-36.190-36.200L263.540 256l107.280 107.300L407 327.100c15.100-15.200 41-4.500 41 16.900z"/></svg>
<svg class="i" style="left:1869px;top:15px" width="18" height="18" viewBox="-22.40 -30.40 576.00 576.00"><path fill="#30363c" d="M497 273L329 441c-15 15-41 4.500-41-17v-96H152c-13.300 0-24-10.700-24-24v-96c0-13.300 10.700-24 24-24h136V88c0-21.400 25.900-32 41-17l168 168c9.300 9.400 9.300 24.600 0 34zM192 436v-40c0-6.600-5.400-12-12-12H96c-17.700 0-32-14.300-32-32V160c0-17.700 14.300-32 32-32h84c6.600 0 12-5.400 12-12V76c0-6.600-5.400-12-12-12H96c-53 0-96 43-96 96v192c0 53 43 96 96 96h84c6.600 0 12-5.400 12-12z"/></svg>
<div class="abs" style="left:1733px;top:18px;width:56px;height:16px;background:#e3000f;border-radius:3px"></div>
<svg class="i" style="left:1796px;top:17px" width="17" height="17" viewBox="1796 17 17 17"><circle cx="1804.4" cy="25.3" r="6" fill="#fdecec"/><circle cx="1804.4" cy="25.3" r="3.8" fill="#e8000c"/></svg>
<span class="t" style="left:333.80px;top:16.30px;font-size:15.2px;line-height:19px;color:#2a2f35;letter-spacing:-0.426px;">Сейчас в эфире: Alex K. - You got me</span>
<span class="t" style="left:1661.60px;top:16.30px;font-size:15.2px;line-height:19px;color:#f70d17;letter-spacing:-0.516px;">14:03:02</span>
<span class="t" style="left:1742.60px;top:20.30px;font-size:10.4px;line-height:13px;color:#fff;font-weight:700;letter-spacing:-0.159px;">AutoDJ</span>
</div>
<div class="abs" id="foot"></div><div class="abs" style="left:0;top:0;z-index:21">
<span class="t" style="left:266.30px;top:1043.30px;font-size:15.2px;line-height:19px;color:#000;font-weight:700;letter-spacing:-0.141px;">Copyright © 2022-2025 </span>
<span class="t" style="left:431.20px;top:1043.30px;font-size:15.2px;line-height:19px;color:#3f6893;font-weight:700;letter-spacing:-0.507px;">RadioCMS Rev. 2025</span>
<span class="t" style="left:571.40px;top:1043.30px;font-size:15.2px;line-height:19px;color:#000;font-weight:700;">.</span>
<span class="t" style="left:579.60px;top:1043.30px;font-size:15.2px;line-height:19px;color:#101214;letter-spacing:-0.108px;">All rights reserved.</span>
<span class="t" style="left:1771.00px;top:1043.30px;font-size:15.2px;line-height:19px;color:#101214;letter-spacing:0.120px;">www.radio-cms.ru</span>
</div>
<div class="abs" style="left:1910px;top:0;width:9px;height:1079px;background:#f2f2f2;z-index:40"></div>
<div class="abs" style="left:1913px;top:3px;width:4px;height:847px;background:#343a40;border-radius:2px;box-shadow:0 0 0 1px #fff;z-index:41"></div>
<div class="abs" id="sideshadow"></div><div class="abs" id="side">
<div class="abs" style="left:0;top:56px;width:250px;height:1px;background:#4b545c"></div>
<svg class="i" style="left:20px;top:9px;overflow:visible" width="36" height="36" viewBox="-17.45 -17.45 36 36"><defs><filter id="lsh" x="-80%" y="-80%" width="260%" height="260%"><feDropShadow dx="0" dy="3" stdDeviation="3.5" flood-color="#000" flood-opacity=".55"/></filter></defs>
<circle r="16.5" fill="#fff" filter="url(#lsh)"/>
<circle r="16.5" fill="#fff"/>
<circle r="13.9" fill="none" stroke="#3e3936" stroke-width="1.15"/>
<circle r="12.4" fill="#dc2b25"/>
<g fill="none" stroke="#fff" stroke-width="0.8" stroke-linecap="round" opacity=".9">
<path d="M-10.3 0.5 Q-9.8 5 -7.6 8"/><path d="M-8.6 2.2 Q-8.2 5.4 -6.3 7.8"/><path d="M-7 3.4 Q-6.5 6 -5.2 7.4"/>
<path d="M10.6 2 Q10.6 -3 7.8 -7"/><path d="M9 3.2 Q9 -2 6.6 -5.8"/><path d="M7.4 3.6 Q7.4 -0.5 5.6 -4"/>
</g>
<g transform="rotate(-8 0 -1)">
<rect x="-5.5" y="-9.2" width="11" height="15.6" rx="5.3" fill="#f4f2f0" stroke="#4a4542" stroke-width="1.35"/>
<g stroke="#5a5552" stroke-width="1.05"><path d="M-3.2 -6.4H3.2M-4 -4.4H4M-4 -2.4H4M-4 -0.4H4M-3.6 1.6H3.6"/></g>
<rect x="0.2" y="2.6" width="3" height="1.6" fill="#6a6562"/>
</g>
<path d="M-2.2 6.6 L-2.2 15.2 Q0 16 2.4 15.2 L2.4 6.6 Z" fill="#fff" stroke="#5a5552" stroke-width="0.9"/>
<path d="M0.2 7.5V15.2" stroke="#9a9592" stroke-width="1.2"/></svg>
<div class="abs" style="left:151px;top:11px;width:83px;height:18px;background:#dc3545;border-radius:4px"></div>
<svg class="i" style="left:27px;top:70px" width="23" height="21" viewBox="-0.00 -16.00 613.33 560.00"><path fill="#fff" d="M280.37 148.26L96 300.11V464a16 16 0 0 0 16 16l112.06-.29a16 16 0 0 0 15.92-16V368a16 16 0 0 1 16-16h64a16 16 0 0 1 16 16v95.64a16 16 0 0 0 16 16.05L464 480a16 16 0 0 0 16-16V300L295.67 148.26a12.19 12.19 0 0 0-15.3 0zM571.6 251.47L488 182.56V44.05a12 12 0 0 0-12-12h-56a12 12 0 0 0-12 12v72.61L318.47 43a48 48 0 0 0-61 0L4.34 251.47a12 12 0 0 0-1.6 16.9l25.5 31A12 12 0 0 0 45.15 301l235.22-193.74a12.19 12.19 0 0 1 15.3 0L530.9 301a12 12 0 0 0 16.9-1.6l25.5-31a12 12 0 0 0-1.7-16.93z"/></svg>
<svg class="i" style="left:28px;top:143px" width="21" height="21" viewBox="-5.33 -16.00 560.00 560.00"><path fill="#fff" d="M470.38 1.51L150.41 96A32 32 0 0 0 128 126.51v261.41A139 139 0 0 0 96 384c-53 0-96 28.66-96 64s43 64 96 64 96-28.66 96-64V214.32l256-75v184.61a138.4 138.4 0 0 0-32-3.93c-53 0-96 28.66-96 64s43 64 96 64 96-28.65 96-64V32a32 32 0 0 0-41.62-30.49z"/></svg>
<svg class="i" style="left:29px;top:178px" width="19" height="21" viewBox="-10.67 -16.00 506.67 560.00"><path fill="#fff" d="M400 32H48C21.5 32 0 53.5 0 80v352c0 26.5 21.5 48 48 48h352c26.5 0 48-21.5 48-48V80c0-26.5-21.5-48-48-48zm-32 252c0 6.6-5.4 12-12 12h-92v92c0 6.6-5.4 12-12 12h-56c-6.6 0-12-5.4-12-12v-92H92c-6.6 0-12-5.4-12-12v-56c0-6.6 5.4-12 12-12h92v-92c0-6.6 5.4-12 12-12h56c6.6 0 12 5.4 12 12v92h92c6.6 0 12 5.4 12 12v56z"/></svg>
<svg class="i" style="left:27px;top:213px" width="23" height="21" viewBox="-0.00 -16.00 613.33 560.00"><path fill="#fff" d="M259.3 17.8L194 150.2 47.9 171.5c-26.2 3.8-36.7 36.1-17.7 54.6l105.7 103-25 145.5c-4.5 26.3 23.2 46 46.4 33.7L288 439.6l130.7 68.7c23.2 12.2 50.9-7.4 46.4-33.7l-25-145.5 105.7-103c19-18.5 8.5-50.8-17.7-54.6L382 150.2 316.7 17.8c-11.7-23.6-45.6-23.9-57.4 0z"/></svg>
<svg class="i" style="left:28px;top:248px" width="21" height="21" viewBox="-5.33 -16.00 560.00 560.00"><path fill="#fff" d="M505 442.7L405.3 343c-4.5-4.5-10.6-7-17-7H372c27.6-35.3 44-79.7 44-128C416 93.1 322.9 0 208 0S0 93.1 0 208s93.1 208 208 208c48.3 0 92.7-16.4 128-44v16.3c0 6.4 2.5 12.5 7 17l99.7 99.7c9.4 9.4 24.6 9.4 33.9 0l28.3-28.3c9.4-9.4 9.4-24.6.1-34zM208 336c-70.7 0-128-57.2-128-128 0-70.7 57.2-128 128-128 70.7 0 128 57.2 128 128 0 70.7-57.2 128-128 128z"/></svg>
<svg class="i" style="left:28px;top:284px" width="21" height="21" viewBox="-5.33 -16.00 560.00 560.00"><path fill="#fff" d="M500.5 231.4l-192-160C287.9 54.3 256 68.600 256 96v320c0 27.4 31.9 41.8 52.5 24.6l192-160c15.3-12.8 15.3-36.4 0-49.2zm-256 0l-192-160C31.9 54.3 0 68.600 0 96v320c0 27.4 31.9 41.8 52.5 24.6l192-160c15.3-12.8 15.3-36.4 0-49.2z"/></svg>
<svg class="i" style="left:27px;top:356px" width="23" height="21" viewBox="-0.00 -16.00 613.33 560.00"><path fill="#fff" d="M572.694 292.093L500.27 416.248A63.997 63.997 0 0 1 444.989 448H45.025c-18.523 0-30.064-20.093-20.731-36.093l72.424-124.155A64 64 0 0 1 152 256h399.964c18.523 0 30.064 20.093 20.73 36.093zM152 224h328v-48c0-26.51-21.49-48-48-48H272l-64-64H48C21.49 64 0 85.49 0 112v278.046l69.077-118.418C86.214 242.25 117.989 224 152 224z"/></svg>
<svg class="i" style="left:27px;top:392px" width="23" height="21" viewBox="-0.00 -16.00 613.33 560.00"><path fill="#fff" d="M572.694 292.093L500.27 416.248A63.997 63.997 0 0 1 444.989 448H45.025c-18.523 0-30.064-20.093-20.731-36.093l72.424-124.155A64 64 0 0 1 152 256h399.964c18.523 0 30.064 20.093 20.73 36.093zM152 224h328v-48c0-26.51-21.49-48-48-48H272l-64-64H48C21.49 64 0 85.49 0 112v278.046l69.077-118.418C86.214 242.25 117.989 224 152 224z"/></svg>
<svg class="i" style="left:25px;top:464px" width="26" height="21" viewBox="-21.33 -16.00 693.33 560.00"><path fill="#fff" d="M216 288h-48c-8.84 0-16 7.16-16 16v192c0 8.84 7.16 16 16 16h48c8.84 0 16-7.16 16-16V304c0-8.84-7.16-16-16-16zM88 384H40c-8.84 0-16 7.16-16 16v96c0 8.84 7.16 16 16 16h48c8.84 0 16-7.16 16-16v-96c0-8.84-7.16-16-16-16zm256-192h-48c-8.84 0-16 7.16-16 16v288c0 8.84 7.16 16 16 16h48c8.84 0 16-7.16 16-16V208c0-8.84-7.16-16-16-16zm128-96h-48c-8.84 0-16 7.16-16 16v384c0 8.84 7.16 16 16 16h48c8.84 0 16-7.16 16-16V112c0-8.84-7.16-16-16-16zM600 0h-48c-8.84 0-16 7.16-16 16v480c0 8.84 7.16 16 16 16h48c8.84 0 16-7.16 16-16V16c0-8.84-7.16-16-16-16z"/></svg>
<svg class="i" style="left:25px;top:500px" width="26" height="21" viewBox="-21.33 -16.00 693.33 560.00"><path fill="#fff" d="M96 224c35.3 0 64-28.7 64-64s-28.7-64-64-64-64 28.7-64 64 28.7 64 64 64zm448 0c35.3 0 64-28.7 64-64s-28.7-64-64-64-64 28.7-64 64 28.7 64 64 64zm32 32h-64c-17.6 0-33.5 7.1-45.1 18.6 40.3 22.1 68.9 62 75.1 109.4h66c17.7 0 32-14.3 32-32v-32c0-35.3-28.7-64-64-64zm-256 0c61.9 0 112-50.1 112-112S381.9 32 320 32 208 82.1 208 144s50.1 112 112 112zm76.8 32h-8.3c-20.8 10-43.9 16-68.5 16s-47.6-6-68.5-16h-8.3C179.6 288 128 339.6 128 403.2V432c0 26.5 21.5 48 48 48h288c26.5 0 48-21.5 48-48v-28.8c0-63.6-51.6-115.2-115.2-115.2zm-223.7-13.4C161.5 263.1 145.6 256 128 256H64c-35.3 0-64 28.7-64 64v32c0 17.7 14.3 32 32 32h65.9c6.3-47.4 34.9-87.3 75.2-109.4z"/></svg>
<svg class="i" style="left:25px;top:535px" width="26" height="21" viewBox="-21.33 -16.00 693.33 560.00"><path fill="#fff" d="M96 224c35.3 0 64-28.7 64-64s-28.7-64-64-64-64 28.7-64 64 28.7 64 64 64zm448 0c35.3 0 64-28.7 64-64s-28.7-64-64-64-64 28.7-64 64 28.7 64 64 64zm32 32h-64c-17.6 0-33.5 7.1-45.1 18.6 40.3 22.1 68.9 62 75.1 109.4h66c17.7 0 32-14.3 32-32v-32c0-35.3-28.7-64-64-64zm-256 0c61.9 0 112-50.1 112-112S381.9 32 320 32 208 82.1 208 144s50.1 112 112 112zm76.8 32h-8.3c-20.8 10-43.9 16-68.5 16s-47.6-6-68.5-16h-8.3C179.6 288 128 339.6 128 403.2V432c0 26.5 21.5 48 48 48h288c26.5 0 48-21.5 48-48v-28.8c0-63.6-51.6-115.2-115.2-115.2zm-223.7-13.4C161.5 263.1 145.6 256 128 256H64c-35.3 0-64 28.7-64 64v32c0 17.7 14.3 32 32 32h65.9c6.3-47.4 34.9-87.3 75.2-109.4z"/></svg>
<svg class="i" style="left:27px;top:608px" width="23" height="21" viewBox="-0.00 -16.00 613.33 560.00"><path fill="#fff" d="M552 64H88c-13.255 0-24 10.745-24 24v8H24c-13.255 0-24 10.745-24 24v272c0 30.928 25.072 56 56 56h472c26.51 0 48-21.49 48-48V88c0-13.255-10.745-24-24-24zM56 400a8 8 0 0 1-8-8V144h16v248a8 8 0 0 1-8 8zm236-16H140c-6.627 0-12-5.373-12-12v-8c0-6.627 5.373-12 12-12h152c6.627 0 12 5.373 12 12v8c0 6.627-5.373 12-12 12zm208 0H348c-6.627 0-12-5.373-12-12v-8c0-6.627 5.373-12 12-12h152c6.627 0 12 5.373 12 12v8c0 6.627-5.373 12-12 12zm-208-96H140c-6.627 0-12-5.373-12-12v-8c0-6.627 5.373-12 12-12h152c6.627 0 12 5.373 12 12v8c0 6.627-5.373 12-12 12zm208 0H348c-6.627 0-12-5.373-12-12v-8c0-6.627 5.373-12 12-12h152c6.627 0 12 5.373 12 12v8c0 6.627-5.373 12-12 12zm0-96H140c-6.627 0-12-5.373-12-12v-40c0-6.627 5.373-12 12-12h360c6.627 0 12 5.373 12 12v40c0 6.627-5.373 12-12 12z"/></svg>
<svg class="i" style="left:28px;top:643px" width="21" height="21" viewBox="-5.33 -16.00 560.00 560.00"><path fill="#fff" d="M80 368H16a16 16 0 0 0-16 16v64a16 16 0 0 0 16 16h64a16 16 0 0 0 16-16v-64a16 16 0 0 0-16-16zm0-320H16A16 16 0 0 0 0 64v64a16 16 0 0 0 16 16h64a16 16 0 0 0 16-16V64a16 16 0 0 0-16-16zm0 160H16a16 16 0 0 0-16 16v64a16 16 0 0 0 16 16h64a16 16 0 0 0 16-16v-64a16 16 0 0 0-16-16zm416 176H176a16 16 0 0 0-16 16v32a16 16 0 0 0 16 16h320a16 16 0 0 0 16-16v-32a16 16 0 0 0-16-16zm0-320H176a16 16 0 0 0-16 16v32a16 16 0 0 0 16 16h320a16 16 0 0 0 16-16V80a16 16 0 0 0-16-16zm0 160H176a16 16 0 0 0-16 16v32a16 16 0 0 0 16 16h320a16 16 0 0 0 16-16v-32a16 16 0 0 0-16-16z"/></svg>
<svg class="i" style="left:29px;top:678px" width="19" height="21" viewBox="-10.67 -16.00 506.67 560.00"><path fill="#fff" d="M267.429 488.563C262.286 507.573 242.858 512 224 512c-18.857 0-38.286-4.427-43.428-23.437C172.927 460.134 160 388.898 160 355.750c0-35.156 31.142-43.750 64-43.750s64 8.594 64 43.750c0 32.949-12.871 104.179-20.571 132.813zM156.867 288.554c-18.693-18.308-29.958-44.173-28.784-72.599 2.054-49.724 42.395-89.956 92.124-91.881C274.862 121.958 320 165.807 320 220c0 26.827-11.064 51.116-28.866 68.552-2.675 2.620-2.401 6.986.628 9.187 9.312 6.765 16.460 15.343 21.234 25.363 1.741 3.654 6.497 4.660 9.449 1.891 28.826-27.043 46.553-65.783 45.511-108.565-1.855-76.206-63.595-138.208-139.793-140.369C146.869 73.753 80 139.215 80 220c0 41.361 17.532 78.700 45.550 104.989 2.953 2.771 7.711 1.770 9.453-1.887 4.774-10.021 11.923-18.598 21.235-25.363 3.029-2.200 3.304-6.566.629-9.185zM224 0C100.204 0 0 100.185 0 224c0 89.992 52.602 165.647 125.739 201.408 4.333 2.118 9.267-1.544 8.535-6.310-2.382-15.512-4.342-30.946-5.406-44.339-.146-1.836-1.149-3.486-2.678-4.512-47.400-31.806-78.564-86.016-78.187-147.347.592-96.237 79.290-174.648 175.529-174.899C320.793 47.747 400 126.797 400 224c0 61.932-32.158 116.490-80.650 147.867-.999 14.037-3.069 30.588-5.624 47.230-.732 4.767 4.203 8.429 8.535 6.310C395.227 389.727 448 314.187 448 224 448 100.205 347.815 0 224 0zm0 160c-35.346 0-64 28.654-64 64s28.654 64 64 64 64-28.654 64-64-28.654-64-64-64z"/></svg>
<svg class="i" style="left:28px;top:713px" width="21" height="21" viewBox="-5.33 -16.00 560.00 560.00"><path fill="#fff" d="M470.38 1.51L150.41 96A32 32 0 0 0 128 126.51v261.41A139 139 0 0 0 96 384c-53 0-96 28.66-96 64s43 64 96 64 96-28.66 96-64V214.32l256-75v184.61a138.4 138.4 0 0 0-32-3.93c-53 0-96 28.66-96 64s43 64 96 64 96-28.65 96-64V32a32 32 0 0 0-41.62-30.49z"/></svg>
<svg class="i" style="left:28px;top:748px" width="21" height="21" viewBox="-5.33 -16.00 560.00 560.00"><path fill="#fff" d="M256,8C119,8,8,119,8,256S119,504,256,504,504,393,504,256,393,8,256,8Zm92.49,313h0l-20,25a16,16,0,0,1-22.49,2.5h0l-67-49.72a40,40,0,0,1-15-31.23V112a16,16,0,0,1,16-16h32a16,16,0,0,1,16,16V256l58,42.5A16,16,0,0,1,348.49,321Z"/></svg>
<svg class="i" style="left:29px;top:783px" width="19" height="21" viewBox="-10.67 -16.00 506.67 560.00"><path fill="#fff" d="M224 512c35.32 0 63.97-28.65 63.97-64H160.03c0 35.35 28.65 64 63.97 64zm215.39-149.71c-19.32-20.76-55.47-51.99-55.47-154.29 0-77.700-54.48-139.900-127.94-155.160V32c0-17.670-14.32-32-31.98-32s-31.98 14.330-31.980 32v20.840C118.560 68.100 64.080 130.300 64.080 208c0 102.300-36.150 133.530-55.470 154.290-6 6.450-8.660 14.160-8.610 21.710.110 16.400 12.980 32 32.100 32h383.800c19.120 0 32-15.600 32.100-32 .050-7.550-2.610-15.270-8.610-21.710z"/></svg>
<svg class="i" style="left:28px;top:819px" width="21" height="21" viewBox="-5.33 -16.00 560.00 560.00"><path fill="#fff" d="M256,8C119,8,8,119,8,256S119,504,256,504,504,393,504,256,393,8,256,8Zm92.49,313h0l-20,25a16,16,0,0,1-22.49,2.5h0l-67-49.72a40,40,0,0,1-15-31.23V112a16,16,0,0,1,16-16h32a16,16,0,0,1,16,16V256l58,42.5A16,16,0,0,1,348.49,321Z"/></svg>
<svg class="i" style="left:27px;top:854px" width="23" height="21" viewBox="-0.00 -16.00 613.33 560.00"><path fill="#fff" d="M416 192c0-88.400-93.100-160-208-160S0 103.600 0 192c0 34.300 14.100 65.900 38 92-13.400 30.200-35.500 54.200-35.800 54.500-2.200 2.300-2.800 5.700-1.500 8.700S4.800 352 8 352c36.600 0 66.900-12.300 88.700-25 32.200 15.700 70.300 25 111.300 25 114.900 0 208-71.600 208-160zm122 220c23.900-26 38-57.700 38-92 0-66.900-53.500-124.200-129.300-148.100.9 6.600 1.300 13.300 1.300 20.100 0 105.900-107.700 192-240 192-10.800 0-21.300-.8-31.700-1.900C207.800 439.600 281.800 480 368 480c41 0 79.100-9.200 111.300-25 21.800 12.700 52.100 25 88.700 25 3.200 0 6.100-1.900 7.300-4.800 1.300-2.900.7-6.300-1.500-8.700-.3-.3-22.400-24.200-35.800-54.500z"/></svg>
<svg class="i" style="left:31px;top:927px" width="15" height="21" viewBox="-5.33 -16.00 400.00 560.00"><path fill="#fff" d="M176 352c53.020 0 96-42.980 96-96V96c0-53.020-42.980-96-96-96S80 42.980 80 96v160c0 53.020 42.980 96 96 96zm160-160h-16c-8.840 0-16 7.160-16 16v48c0 74.800-64.490 134.820-140.790 127.380C96.710 376.890 48 317.110 48 250.300V208c0-8.840-7.160-16-16-16H16c-8.840 0-16 7.160-16 16v40.160c0 89.640 63.970 169.550 152 181.690V464H96c-8.840 0-16 7.160-16 16v16c0 8.840 7.160 16 16 16h160c8.840 0 16-7.160 16-16v-16c0-8.840-7.160-16-16-16h-56v-33.770C285.710 418.470 352 344.900 352 256v-48c0-8.840-7.160-16-16-16z"/></svg>
<svg class="i" style="left:28px;top:999px" width="21" height="21" viewBox="-5.33 -16.00 560.00 560.00"><path fill="#fff" d="M256 8C119.043 8 8 119.083 8 256c0 136.997 111.043 248 248 248s248-111.003 248-248C504 119.083 392.957 8 256 8zm0 110c23.196 0 42 18.804 42 42s-18.804 42-42 42-42-18.804-42-42 18.804-42 42-42zm56 254c0 6.627-5.373 12-12 12h-88c-6.627 0-12-5.373-12-12v-24c0-6.627 5.373-12 12-12h12v-64h-12c-6.627 0-12-5.373-12-12v-24c0-6.627 5.373-12 12-12h64c6.627 0 12 5.373 12 12v100h12c6.627 0 12 5.373 12 12v24z"/></svg>
<svg class="i" style="left:25px;top:1072px" width="26" height="21" viewBox="-21.33 -16.00 693.33 560.00"><path fill="#fff" d="M224 256c70.700 0 128-57.300 128-128S294.700 0 224 0 96 57.300 96 128s57.300 128 128 128zm89.600 32h-16.700c-22.200 10.200-46.900 16-72.900 16s-50.600-5.800-72.900-16h-16.700C60.200 288 0 348.200 0 422.400V464c0 26.500 21.500 48 48 48h274.900c-2.400-6.800-3.400-14-2.600-21.300l6.800-60.900-4.200-3.700c-30-25.700-41.700-66.200-30.600-103.400-10.400-3.200-21.400-4.700-32.700-4.700z"/></svg>
<span class="t" style="left:57.20px;top:72.30px;font-size:15.2px;line-height:19px;color:#f2f3f4;letter-spacing:-0.645px;">Главная</span>
<span class="t" style="left:20.60px;top:114.30px;font-size:13.2px;line-height:17px;color:#c5c9d2;letter-spacing:-0.551px;">ПЛЕЙЛИСТЫ</span>
<span class="t" style="left:57.20px;top:145.30px;font-size:15.2px;line-height:19px;color:#f2f3f4;letter-spacing:-0.526px;">Плейлисты</span>
<span class="t" style="left:57.20px;top:180.30px;font-size:15.2px;line-height:19px;color:#f2f3f4;letter-spacing:-0.379px;">Создать плейлист</span>
<span class="t" style="left:57.20px;top:215.30px;font-size:15.2px;line-height:19px;color:#f2f3f4;letter-spacing:-0.403px;">Музыкальные заявки</span>
<span class="t" style="left:57.20px;top:250.30px;font-size:15.2px;line-height:19px;color:#f2f3f4;letter-spacing:-0.371px;">Поиск дублей</span>
<span class="t" style="left:57.20px;top:286.30px;font-size:15.2px;line-height:19px;color:#f2f3f4;letter-spacing:-0.602px;">Далее в эфире</span>
<span class="t" style="left:20.60px;top:328.30px;font-size:13.2px;line-height:17px;color:#c5c9d2;letter-spacing:-1.020px;">МЕНЕДЖЕР</span>
<span class="t" style="left:57.20px;top:358.30px;font-size:15.2px;line-height:19px;color:#f2f3f4;letter-spacing:-0.377px;">Файловый менеджер</span>
<span class="t" style="left:57.20px;top:394.30px;font-size:15.2px;line-height:19px;color:#f2f3f4;letter-spacing:-0.282px;">Загрузка песен</span>
<span class="t" style="left:20.60px;top:436.30px;font-size:13.2px;line-height:17px;color:#c5c9d2;letter-spacing:-0.696px;">СТАТИСТИКА</span>
<span class="t" style="left:57.20px;top:466.30px;font-size:15.2px;line-height:19px;color:#f2f3f4;letter-spacing:-0.928px;">Общая</span>
<span class="t" style="left:57.20px;top:502.30px;font-size:15.2px;line-height:19px;color:#f2f3f4;letter-spacing:-0.568px;">По слушателям</span>
<span class="t" style="left:57.20px;top:537.30px;font-size:15.2px;line-height:19px;color:#f2f3f4;letter-spacing:-0.475px;">Расширеная</span>
<span class="t" style="left:20.60px;top:579.30px;font-size:13.2px;line-height:17px;color:#c5c9d2;letter-spacing:-0.785px;">УПРАВЛЕНИЕ РАДИО</span>
<span class="t" style="left:57.20px;top:610.30px;font-size:15.2px;line-height:19px;color:#f2f3f4;letter-spacing:-0.199px;">Добавить новость</span>
<span class="t" style="left:57.20px;top:645.30px;font-size:15.2px;line-height:19px;color:#f2f3f4;letter-spacing:-0.230px;">Список новостей</span>
<span class="t" style="left:57.20px;top:680.30px;font-size:15.2px;line-height:19px;color:#f2f3f4;letter-spacing:-0.232px;">Добавить подкаст</span>
<span class="t" style="left:57.20px;top:715.30px;font-size:15.2px;line-height:19px;color:#f2f3f4;letter-spacing:-0.218px;">Список подкастов</span>
<span class="t" style="left:57.20px;top:750.30px;font-size:15.2px;line-height:19px;color:#f2f3f4;letter-spacing:-0.341px;">Отправка уведомлений</span>
<span class="t" style="left:57.20px;top:785.30px;font-size:15.2px;line-height:19px;color:#f2f3f4;letter-spacing:-0.332px;">Список уведомлений</span>
<span class="t" style="left:57.20px;top:821.30px;font-size:15.2px;line-height:19px;color:#f2f3f4;letter-spacing:-0.343px;">Расписание</span>
<span class="t" style="left:57.20px;top:856.30px;font-size:15.2px;line-height:19px;color:#f2f3f4;letter-spacing:-0.634px;">Чат</span>
<span class="t" style="left:20.60px;top:898.30px;font-size:13.2px;line-height:17px;color:#c5c9d2;letter-spacing:-0.691px;">ДИДЖЕИ</span>
<span class="t" style="left:57.20px;top:929.30px;font-size:15.2px;line-height:19px;color:#f2f3f4;letter-spacing:-0.396px;">Список диджеев</span>
<span class="t" style="left:20.60px;top:971.30px;font-size:13.2px;line-height:17px;color:#c5c9d2;letter-spacing:-1.173px;">СТАТУС</span>
<span class="t" style="left:57.20px;top:1001.30px;font-size:15.2px;line-height:19px;color:#f2f3f4;letter-spacing:-0.531px;">Статус радио</span>
<span class="t" style="left:20.60px;top:1044.30px;font-size:13.2px;line-height:17px;color:#c5c9d2;letter-spacing:-0.659px;">НАСТРОЙКИ</span>
<span class="t" style="left:57.20px;top:1074.30px;font-size:15.2px;line-height:19px;color:#f2f3f4;letter-spacing:0.146px;">Настройки</span>
<span class="t" style="left:62.60px;top:17.30px;font-size:18.6px;line-height:23px;color:#d4d6d9;letter-spacing:-1.038px;">RadioCMS</span>
<span class="t" style="left:156.20px;top:13.30px;font-size:11px;line-height:14px;color:#fff;font-weight:700;letter-spacing:-0.077px;">10.0 RC2 2025</span>
</div>
</body></html>
